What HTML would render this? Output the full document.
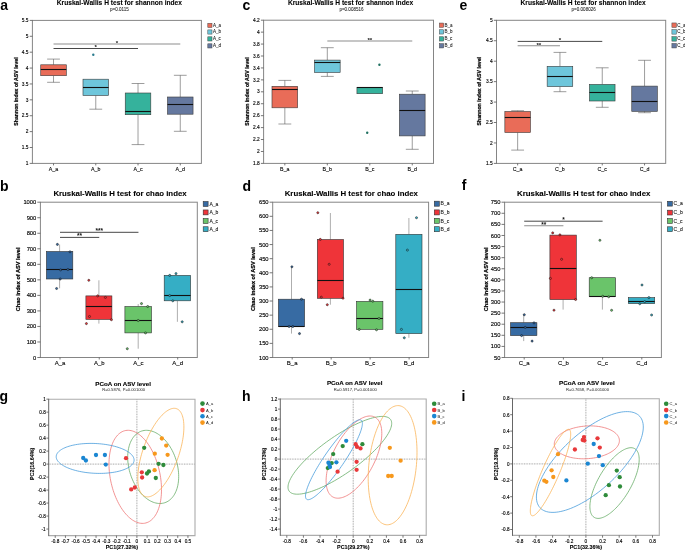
<!DOCTYPE html><html><head><meta charset="utf-8"><style>html,body{margin:0;padding:0;background:#fff;width:685px;height:550px;overflow:hidden}svg{display:block;will-change:transform}text{font-family:"Liberation Sans",sans-serif}</style></head><body>
<svg width="685" height="550" viewBox="0 0 685 550">
<rect width="685" height="550" fill="#fff"/>
<text x="0.30" y="10.00" font-size="14" font-weight="bold" text-anchor="start" fill="#000">a</text>
<text x="242.50" y="10.00" font-size="14" font-weight="bold" text-anchor="start" fill="#000">c</text>
<text x="459.50" y="10.20" font-size="14" font-weight="bold" text-anchor="start" fill="#000">e</text>
<text x="0.10" y="190.60" font-size="14" font-weight="bold" text-anchor="start" fill="#000">b</text>
<text x="242.50" y="190.70" font-size="14" font-weight="bold" text-anchor="start" fill="#000">d</text>
<text x="461.80" y="190.40" font-size="14" font-weight="bold" text-anchor="start" fill="#000">f</text>
<text x="-0.50" y="400.50" font-size="14" font-weight="bold" text-anchor="start" fill="#000">g</text>
<text x="241.90" y="401.00" font-size="14" font-weight="bold" text-anchor="start" fill="#000">h</text>
<text x="461.40" y="401.00" font-size="14" font-weight="bold" text-anchor="start" fill="#000">i</text>
<rect x="32.40" y="20.40" width="169.00" height="143.00" fill="none" stroke="#858585" stroke-width="1.0"/>
<line x1="29.70" y1="20.40" x2="32.40" y2="20.40" stroke="#555" stroke-width="0.8"/>
<text x="28.50" y="22.08" font-size="4.8" text-anchor="end" fill="#000" stroke="#000" stroke-width="0.13">5.5</text>
<line x1="29.70" y1="36.29" x2="32.40" y2="36.29" stroke="#555" stroke-width="0.8"/>
<text x="28.50" y="37.97" font-size="4.8" text-anchor="end" fill="#000" stroke="#000" stroke-width="0.13">5</text>
<line x1="29.70" y1="52.18" x2="32.40" y2="52.18" stroke="#555" stroke-width="0.8"/>
<text x="28.50" y="53.86" font-size="4.8" text-anchor="end" fill="#000" stroke="#000" stroke-width="0.13">4.5</text>
<line x1="29.70" y1="68.07" x2="32.40" y2="68.07" stroke="#555" stroke-width="0.8"/>
<text x="28.50" y="69.75" font-size="4.8" text-anchor="end" fill="#000" stroke="#000" stroke-width="0.13">4</text>
<line x1="29.70" y1="83.96" x2="32.40" y2="83.96" stroke="#555" stroke-width="0.8"/>
<text x="28.50" y="85.64" font-size="4.8" text-anchor="end" fill="#000" stroke="#000" stroke-width="0.13">3.5</text>
<line x1="29.70" y1="99.84" x2="32.40" y2="99.84" stroke="#555" stroke-width="0.8"/>
<text x="28.50" y="101.52" font-size="4.8" text-anchor="end" fill="#000" stroke="#000" stroke-width="0.13">3</text>
<line x1="29.70" y1="115.73" x2="32.40" y2="115.73" stroke="#555" stroke-width="0.8"/>
<text x="28.50" y="117.41" font-size="4.8" text-anchor="end" fill="#000" stroke="#000" stroke-width="0.13">2.5</text>
<line x1="29.70" y1="131.62" x2="32.40" y2="131.62" stroke="#555" stroke-width="0.8"/>
<text x="28.50" y="133.30" font-size="4.8" text-anchor="end" fill="#000" stroke="#000" stroke-width="0.13">2</text>
<line x1="29.70" y1="147.51" x2="32.40" y2="147.51" stroke="#555" stroke-width="0.8"/>
<text x="28.50" y="149.19" font-size="4.8" text-anchor="end" fill="#000" stroke="#000" stroke-width="0.13">1.5</text>
<line x1="29.70" y1="163.40" x2="32.40" y2="163.40" stroke="#555" stroke-width="0.8"/>
<text x="28.50" y="165.08" font-size="4.8" text-anchor="end" fill="#000" stroke="#000" stroke-width="0.13">1</text>
<line x1="53.52" y1="163.40" x2="53.52" y2="165.40" stroke="#555" stroke-width="0.8"/>
<text x="53.52" y="170.60" font-size="5.3" text-anchor="middle" fill="#000" stroke="#000" stroke-width="0.1">A_a</text>
<line x1="95.78" y1="163.40" x2="95.78" y2="165.40" stroke="#555" stroke-width="0.8"/>
<text x="95.78" y="170.60" font-size="5.3" text-anchor="middle" fill="#000" stroke="#000" stroke-width="0.1">A_b</text>
<line x1="138.03" y1="163.40" x2="138.03" y2="165.40" stroke="#555" stroke-width="0.8"/>
<text x="138.03" y="170.60" font-size="5.3" text-anchor="middle" fill="#000" stroke="#000" stroke-width="0.1">A_c</text>
<line x1="180.28" y1="163.40" x2="180.28" y2="165.40" stroke="#555" stroke-width="0.8"/>
<text x="180.28" y="170.60" font-size="5.3" text-anchor="middle" fill="#000" stroke="#000" stroke-width="0.1">A_d</text>
<line x1="53.52" y1="59.10" x2="53.52" y2="64.80" stroke="#5a5a5a" stroke-width="0.6"/>
<line x1="47.13" y1="59.10" x2="59.92" y2="59.10" stroke="#5a5a5a" stroke-width="0.6"/>
<line x1="53.52" y1="75.70" x2="53.52" y2="82.30" stroke="#5a5a5a" stroke-width="0.6"/>
<line x1="47.13" y1="82.30" x2="59.92" y2="82.30" stroke="#5a5a5a" stroke-width="0.6"/>
<rect x="40.74" y="64.80" width="25.56" height="10.90" fill="#E96C58" stroke="#3a3a3a" stroke-width="0.6"/>
<line x1="40.74" y1="69.50" x2="66.31" y2="69.50" stroke="#111" stroke-width="1.1"/>
<line x1="95.78" y1="95.50" x2="95.78" y2="109.20" stroke="#5a5a5a" stroke-width="0.6"/>
<line x1="89.38" y1="109.20" x2="102.17" y2="109.20" stroke="#5a5a5a" stroke-width="0.6"/>
<rect x="82.99" y="79.20" width="25.56" height="16.30" fill="#6EC6DB" stroke="#3a3a3a" stroke-width="0.6"/>
<line x1="82.99" y1="87.50" x2="108.56" y2="87.50" stroke="#111" stroke-width="1.1"/>
<line x1="138.03" y1="83.50" x2="138.03" y2="93.00" stroke="#5a5a5a" stroke-width="0.6"/>
<line x1="131.63" y1="83.50" x2="144.42" y2="83.50" stroke="#5a5a5a" stroke-width="0.6"/>
<line x1="138.03" y1="114.70" x2="138.03" y2="144.60" stroke="#5a5a5a" stroke-width="0.6"/>
<line x1="131.63" y1="144.60" x2="144.42" y2="144.60" stroke="#5a5a5a" stroke-width="0.6"/>
<rect x="125.24" y="93.00" width="25.56" height="21.70" fill="#35B29C" stroke="#3a3a3a" stroke-width="0.6"/>
<line x1="125.24" y1="111.50" x2="150.81" y2="111.50" stroke="#111" stroke-width="1.1"/>
<line x1="180.28" y1="75.30" x2="180.28" y2="97.00" stroke="#5a5a5a" stroke-width="0.6"/>
<line x1="173.88" y1="75.30" x2="186.67" y2="75.30" stroke="#5a5a5a" stroke-width="0.6"/>
<line x1="180.28" y1="114.20" x2="180.28" y2="131.30" stroke="#5a5a5a" stroke-width="0.6"/>
<line x1="173.88" y1="131.30" x2="186.67" y2="131.30" stroke="#5a5a5a" stroke-width="0.6"/>
<rect x="167.49" y="97.00" width="25.56" height="17.20" fill="#65789F" stroke="#3a3a3a" stroke-width="0.6"/>
<line x1="167.49" y1="104.50" x2="193.06" y2="104.50" stroke="#111" stroke-width="1.1"/>
<circle cx="93.30" cy="54.80" r="1.2" fill="#2a7b8e" stroke="none" stroke-width="0"/>
<line x1="53.52" y1="44.00" x2="180.28" y2="44.00" stroke="#8e8e8e" stroke-width="1.1"/>
<text x="116.90" y="44.60" font-size="6.2" font-weight="bold" text-anchor="middle" fill="#111">*</text>
<line x1="53.52" y1="48.50" x2="138.03" y2="48.50" stroke="#333" stroke-width="0.9"/>
<text x="95.78" y="49.10" font-size="6.2" font-weight="bold" text-anchor="middle" fill="#111">*</text>
<rect x="207.80" y="23.30" width="4.20" height="4.20" fill="#E96C58" stroke="#444" stroke-width="0.5"/>
<text x="212.90" y="26.85" font-size="4.5" text-anchor="start" fill="#111" stroke="#111" stroke-width="0.06">A_a</text>
<rect x="207.80" y="29.90" width="4.20" height="4.20" fill="#6EC6DB" stroke="#444" stroke-width="0.5"/>
<text x="212.90" y="33.45" font-size="4.5" text-anchor="start" fill="#111" stroke="#111" stroke-width="0.06">A_b</text>
<rect x="207.80" y="36.80" width="4.20" height="4.20" fill="#35B29C" stroke="#444" stroke-width="0.5"/>
<text x="212.90" y="40.35" font-size="4.5" text-anchor="start" fill="#111" stroke="#111" stroke-width="0.06">A_c</text>
<rect x="207.80" y="43.80" width="4.20" height="4.20" fill="#65789F" stroke="#444" stroke-width="0.5"/>
<text x="212.90" y="47.35" font-size="4.5" text-anchor="start" fill="#111" stroke="#111" stroke-width="0.06">A_d</text>
<text x="56.80" y="4.70" font-size="6.65" font-weight="bold" text-anchor="start" fill="#000" stroke="#000" stroke-width="0.08">Kruskal-Wallis H test for shannon index</text>
<text x="110.00" y="11.20" font-size="4.55" text-anchor="start" fill="#222" stroke="#222" stroke-width="0.05">p=0.0115</text>
<text x="17.60" y="91.50" font-size="5.2" font-weight="bold" text-anchor="middle" fill="#000" transform="rotate(-90 17.60 91.50)" stroke="#000" stroke-width="0.22">Shannon index of ASV level</text>
<rect x="263.60" y="20.20" width="169.90" height="143.20" fill="none" stroke="#858585" stroke-width="1.0"/>
<line x1="260.90" y1="20.20" x2="263.60" y2="20.20" stroke="#555" stroke-width="0.8"/>
<text x="259.70" y="21.88" font-size="4.8" text-anchor="end" fill="#000" stroke="#000" stroke-width="0.13">4.2</text>
<line x1="260.90" y1="32.13" x2="263.60" y2="32.13" stroke="#555" stroke-width="0.8"/>
<text x="259.70" y="33.81" font-size="4.8" text-anchor="end" fill="#000" stroke="#000" stroke-width="0.13">4</text>
<line x1="260.90" y1="44.07" x2="263.60" y2="44.07" stroke="#555" stroke-width="0.8"/>
<text x="259.70" y="45.75" font-size="4.8" text-anchor="end" fill="#000" stroke="#000" stroke-width="0.13">3.8</text>
<line x1="260.90" y1="56.00" x2="263.60" y2="56.00" stroke="#555" stroke-width="0.8"/>
<text x="259.70" y="57.68" font-size="4.8" text-anchor="end" fill="#000" stroke="#000" stroke-width="0.13">3.6</text>
<line x1="260.90" y1="67.93" x2="263.60" y2="67.93" stroke="#555" stroke-width="0.8"/>
<text x="259.70" y="69.61" font-size="4.8" text-anchor="end" fill="#000" stroke="#000" stroke-width="0.13">3.4</text>
<line x1="260.90" y1="79.87" x2="263.60" y2="79.87" stroke="#555" stroke-width="0.8"/>
<text x="259.70" y="81.55" font-size="4.8" text-anchor="end" fill="#000" stroke="#000" stroke-width="0.13">3.2</text>
<line x1="260.90" y1="91.80" x2="263.60" y2="91.80" stroke="#555" stroke-width="0.8"/>
<text x="259.70" y="93.48" font-size="4.8" text-anchor="end" fill="#000" stroke="#000" stroke-width="0.13">3</text>
<line x1="260.90" y1="103.73" x2="263.60" y2="103.73" stroke="#555" stroke-width="0.8"/>
<text x="259.70" y="105.41" font-size="4.8" text-anchor="end" fill="#000" stroke="#000" stroke-width="0.13">2.8</text>
<line x1="260.90" y1="115.67" x2="263.60" y2="115.67" stroke="#555" stroke-width="0.8"/>
<text x="259.70" y="117.35" font-size="4.8" text-anchor="end" fill="#000" stroke="#000" stroke-width="0.13">2.6</text>
<line x1="260.90" y1="127.60" x2="263.60" y2="127.60" stroke="#555" stroke-width="0.8"/>
<text x="259.70" y="129.28" font-size="4.8" text-anchor="end" fill="#000" stroke="#000" stroke-width="0.13">2.4</text>
<line x1="260.90" y1="139.53" x2="263.60" y2="139.53" stroke="#555" stroke-width="0.8"/>
<text x="259.70" y="141.21" font-size="4.8" text-anchor="end" fill="#000" stroke="#000" stroke-width="0.13">2.2</text>
<line x1="260.90" y1="151.47" x2="263.60" y2="151.47" stroke="#555" stroke-width="0.8"/>
<text x="259.70" y="153.15" font-size="4.8" text-anchor="end" fill="#000" stroke="#000" stroke-width="0.13">2</text>
<line x1="260.90" y1="163.40" x2="263.60" y2="163.40" stroke="#555" stroke-width="0.8"/>
<text x="259.70" y="165.08" font-size="4.8" text-anchor="end" fill="#000" stroke="#000" stroke-width="0.13">1.8</text>
<line x1="284.84" y1="163.40" x2="284.84" y2="165.40" stroke="#555" stroke-width="0.8"/>
<text x="284.84" y="170.60" font-size="5.3" text-anchor="middle" fill="#000" stroke="#000" stroke-width="0.1">B_a</text>
<line x1="327.31" y1="163.40" x2="327.31" y2="165.40" stroke="#555" stroke-width="0.8"/>
<text x="327.31" y="170.60" font-size="5.3" text-anchor="middle" fill="#000" stroke="#000" stroke-width="0.1">B_b</text>
<line x1="369.79" y1="163.40" x2="369.79" y2="165.40" stroke="#555" stroke-width="0.8"/>
<text x="369.79" y="170.60" font-size="5.3" text-anchor="middle" fill="#000" stroke="#000" stroke-width="0.1">B_c</text>
<line x1="412.26" y1="163.40" x2="412.26" y2="165.40" stroke="#555" stroke-width="0.8"/>
<text x="412.26" y="170.60" font-size="5.3" text-anchor="middle" fill="#000" stroke="#000" stroke-width="0.1">B_d</text>
<line x1="284.84" y1="80.40" x2="284.84" y2="86.30" stroke="#5a5a5a" stroke-width="0.6"/>
<line x1="278.41" y1="80.40" x2="291.26" y2="80.40" stroke="#5a5a5a" stroke-width="0.6"/>
<line x1="284.84" y1="107.80" x2="284.84" y2="124.00" stroke="#5a5a5a" stroke-width="0.6"/>
<line x1="278.41" y1="124.00" x2="291.26" y2="124.00" stroke="#5a5a5a" stroke-width="0.6"/>
<rect x="271.99" y="86.30" width="25.70" height="21.50" fill="#E96C58" stroke="#3a3a3a" stroke-width="0.6"/>
<line x1="271.99" y1="89.50" x2="297.69" y2="89.50" stroke="#111" stroke-width="1.1"/>
<line x1="327.31" y1="47.70" x2="327.31" y2="60.10" stroke="#5a5a5a" stroke-width="0.6"/>
<line x1="320.89" y1="47.70" x2="333.74" y2="47.70" stroke="#5a5a5a" stroke-width="0.6"/>
<line x1="327.31" y1="72.50" x2="327.31" y2="76.40" stroke="#5a5a5a" stroke-width="0.6"/>
<line x1="320.89" y1="76.40" x2="333.74" y2="76.40" stroke="#5a5a5a" stroke-width="0.6"/>
<rect x="314.46" y="60.10" width="25.70" height="12.40" fill="#6EC6DB" stroke="#3a3a3a" stroke-width="0.6"/>
<line x1="314.46" y1="62.50" x2="340.16" y2="62.50" stroke="#111" stroke-width="1.1"/>
<rect x="356.94" y="87.40" width="25.70" height="6.30" fill="#35B29C" stroke="#3a3a3a" stroke-width="0.6"/>
<line x1="356.94" y1="87.50" x2="382.64" y2="87.50" stroke="#111" stroke-width="1.1"/>
<line x1="412.26" y1="91.00" x2="412.26" y2="94.20" stroke="#5a5a5a" stroke-width="0.6"/>
<line x1="405.84" y1="91.00" x2="418.69" y2="91.00" stroke="#5a5a5a" stroke-width="0.6"/>
<line x1="412.26" y1="135.90" x2="412.26" y2="149.30" stroke="#5a5a5a" stroke-width="0.6"/>
<line x1="405.84" y1="149.30" x2="418.69" y2="149.30" stroke="#5a5a5a" stroke-width="0.6"/>
<rect x="399.41" y="94.20" width="25.70" height="41.70" fill="#65789F" stroke="#3a3a3a" stroke-width="0.6"/>
<line x1="399.41" y1="110.50" x2="425.11" y2="110.50" stroke="#111" stroke-width="1.1"/>
<circle cx="379.40" cy="64.80" r="1.2" fill="#1f7060" stroke="none" stroke-width="0"/>
<circle cx="367.20" cy="132.70" r="1.2" fill="#1f7060" stroke="none" stroke-width="0"/>
<line x1="327.31" y1="41.00" x2="412.26" y2="41.00" stroke="#8e8e8e" stroke-width="1.1"/>
<text x="369.79" y="42.40" font-size="6.2" font-weight="bold" text-anchor="middle" fill="#111">**</text>
<rect x="439.40" y="23.05" width="4.30" height="4.30" fill="#E96C58" stroke="#444" stroke-width="0.5"/>
<text x="444.60" y="26.65" font-size="4.5" text-anchor="start" fill="#111" stroke="#111" stroke-width="0.06">B_a</text>
<rect x="439.40" y="29.75" width="4.30" height="4.30" fill="#6EC6DB" stroke="#444" stroke-width="0.5"/>
<text x="444.60" y="33.35" font-size="4.5" text-anchor="start" fill="#111" stroke="#111" stroke-width="0.06">B_b</text>
<rect x="439.40" y="36.75" width="4.30" height="4.30" fill="#35B29C" stroke="#444" stroke-width="0.5"/>
<text x="444.60" y="40.35" font-size="4.5" text-anchor="start" fill="#111" stroke="#111" stroke-width="0.06">B_c</text>
<rect x="439.40" y="43.65" width="4.30" height="4.30" fill="#65789F" stroke="#444" stroke-width="0.5"/>
<text x="444.60" y="47.25" font-size="4.5" text-anchor="start" fill="#111" stroke="#111" stroke-width="0.06">B_d</text>
<text x="287.90" y="4.70" font-size="6.65" font-weight="bold" text-anchor="start" fill="#000" stroke="#000" stroke-width="0.08">Kruskal-Wallis H test for shannon index</text>
<text x="339.40" y="11.20" font-size="4.55" text-anchor="start" fill="#222" stroke="#222" stroke-width="0.05">p=0.008516</text>
<text x="248.80" y="91.50" font-size="5.2" font-weight="bold" text-anchor="middle" fill="#000" transform="rotate(-90 248.80 91.50)" stroke="#000" stroke-width="0.22">Shannon index of ASV level</text>
<rect x="496.50" y="20.30" width="169.20" height="143.10" fill="none" stroke="#858585" stroke-width="1.0"/>
<line x1="493.80" y1="20.30" x2="496.50" y2="20.30" stroke="#555" stroke-width="0.8"/>
<text x="492.60" y="21.98" font-size="4.8" text-anchor="end" fill="#000" stroke="#000" stroke-width="0.13">5</text>
<line x1="493.80" y1="40.74" x2="496.50" y2="40.74" stroke="#555" stroke-width="0.8"/>
<text x="492.60" y="42.42" font-size="4.8" text-anchor="end" fill="#000" stroke="#000" stroke-width="0.13">4.5</text>
<line x1="493.80" y1="61.19" x2="496.50" y2="61.19" stroke="#555" stroke-width="0.8"/>
<text x="492.60" y="62.87" font-size="4.8" text-anchor="end" fill="#000" stroke="#000" stroke-width="0.13">4</text>
<line x1="493.80" y1="81.63" x2="496.50" y2="81.63" stroke="#555" stroke-width="0.8"/>
<text x="492.60" y="83.31" font-size="4.8" text-anchor="end" fill="#000" stroke="#000" stroke-width="0.13">3.5</text>
<line x1="493.80" y1="102.07" x2="496.50" y2="102.07" stroke="#555" stroke-width="0.8"/>
<text x="492.60" y="103.75" font-size="4.8" text-anchor="end" fill="#000" stroke="#000" stroke-width="0.13">3</text>
<line x1="493.80" y1="122.51" x2="496.50" y2="122.51" stroke="#555" stroke-width="0.8"/>
<text x="492.60" y="124.19" font-size="4.8" text-anchor="end" fill="#000" stroke="#000" stroke-width="0.13">2.5</text>
<line x1="493.80" y1="142.96" x2="496.50" y2="142.96" stroke="#555" stroke-width="0.8"/>
<text x="492.60" y="144.64" font-size="4.8" text-anchor="end" fill="#000" stroke="#000" stroke-width="0.13">2</text>
<line x1="493.80" y1="163.40" x2="496.50" y2="163.40" stroke="#555" stroke-width="0.8"/>
<text x="492.60" y="165.08" font-size="4.8" text-anchor="end" fill="#000" stroke="#000" stroke-width="0.13">1.5</text>
<line x1="517.65" y1="163.40" x2="517.65" y2="165.40" stroke="#555" stroke-width="0.8"/>
<text x="517.65" y="170.60" font-size="5.3" text-anchor="middle" fill="#000" stroke="#000" stroke-width="0.1">C_a</text>
<line x1="559.95" y1="163.40" x2="559.95" y2="165.40" stroke="#555" stroke-width="0.8"/>
<text x="559.95" y="170.60" font-size="5.3" text-anchor="middle" fill="#000" stroke="#000" stroke-width="0.1">C_b</text>
<line x1="602.25" y1="163.40" x2="602.25" y2="165.40" stroke="#555" stroke-width="0.8"/>
<text x="602.25" y="170.60" font-size="5.3" text-anchor="middle" fill="#000" stroke="#000" stroke-width="0.1">C_c</text>
<line x1="644.55" y1="163.40" x2="644.55" y2="165.40" stroke="#555" stroke-width="0.8"/>
<text x="644.55" y="170.60" font-size="5.3" text-anchor="middle" fill="#000" stroke="#000" stroke-width="0.1">C_d</text>
<line x1="517.65" y1="110.70" x2="517.65" y2="111.50" stroke="#5a5a5a" stroke-width="0.6"/>
<line x1="511.25" y1="110.70" x2="524.05" y2="110.70" stroke="#5a5a5a" stroke-width="0.6"/>
<line x1="517.65" y1="132.50" x2="517.65" y2="150.10" stroke="#5a5a5a" stroke-width="0.6"/>
<line x1="511.25" y1="150.10" x2="524.05" y2="150.10" stroke="#5a5a5a" stroke-width="0.6"/>
<rect x="504.85" y="111.50" width="25.59" height="21.00" fill="#E96C58" stroke="#3a3a3a" stroke-width="0.6"/>
<line x1="504.85" y1="117.50" x2="530.45" y2="117.50" stroke="#111" stroke-width="1.1"/>
<line x1="559.95" y1="52.40" x2="559.95" y2="66.30" stroke="#5a5a5a" stroke-width="0.6"/>
<line x1="553.55" y1="52.40" x2="566.35" y2="52.40" stroke="#5a5a5a" stroke-width="0.6"/>
<line x1="559.95" y1="86.60" x2="559.95" y2="91.70" stroke="#5a5a5a" stroke-width="0.6"/>
<line x1="553.55" y1="91.70" x2="566.35" y2="91.70" stroke="#5a5a5a" stroke-width="0.6"/>
<rect x="547.15" y="66.30" width="25.59" height="20.30" fill="#6EC6DB" stroke="#3a3a3a" stroke-width="0.6"/>
<line x1="547.15" y1="76.50" x2="572.75" y2="76.50" stroke="#111" stroke-width="1.1"/>
<line x1="602.25" y1="67.80" x2="602.25" y2="84.40" stroke="#5a5a5a" stroke-width="0.6"/>
<line x1="595.85" y1="67.80" x2="608.65" y2="67.80" stroke="#5a5a5a" stroke-width="0.6"/>
<line x1="602.25" y1="101.00" x2="602.25" y2="107.30" stroke="#5a5a5a" stroke-width="0.6"/>
<line x1="595.85" y1="107.30" x2="608.65" y2="107.30" stroke="#5a5a5a" stroke-width="0.6"/>
<rect x="589.45" y="84.40" width="25.59" height="16.60" fill="#35B29C" stroke="#3a3a3a" stroke-width="0.6"/>
<line x1="589.45" y1="92.50" x2="615.05" y2="92.50" stroke="#111" stroke-width="1.1"/>
<line x1="644.55" y1="60.30" x2="644.55" y2="86.10" stroke="#5a5a5a" stroke-width="0.6"/>
<line x1="638.15" y1="60.30" x2="650.95" y2="60.30" stroke="#5a5a5a" stroke-width="0.6"/>
<line x1="644.55" y1="111.40" x2="644.55" y2="112.70" stroke="#5a5a5a" stroke-width="0.6"/>
<line x1="638.15" y1="112.70" x2="650.95" y2="112.70" stroke="#5a5a5a" stroke-width="0.6"/>
<rect x="631.75" y="86.10" width="25.59" height="25.30" fill="#65789F" stroke="#3a3a3a" stroke-width="0.6"/>
<line x1="631.75" y1="101.50" x2="657.35" y2="101.50" stroke="#111" stroke-width="1.1"/>
<line x1="517.65" y1="41.40" x2="602.25" y2="41.40" stroke="#333" stroke-width="0.9"/>
<text x="559.95" y="42.00" font-size="6.2" font-weight="bold" text-anchor="middle" fill="#111">*</text>
<line x1="517.65" y1="45.80" x2="559.95" y2="45.80" stroke="#8e8e8e" stroke-width="1.1"/>
<text x="538.80" y="47.20" font-size="6.2" font-weight="bold" text-anchor="middle" fill="#111">**</text>
<rect x="671.90" y="22.95" width="4.50" height="4.50" fill="#E96C58" stroke="#444" stroke-width="0.5"/>
<text x="677.30" y="26.65" font-size="4.5" text-anchor="start" fill="#111" stroke="#111" stroke-width="0.06">C_a</text>
<rect x="671.90" y="29.65" width="4.50" height="4.50" fill="#6EC6DB" stroke="#444" stroke-width="0.5"/>
<text x="677.30" y="33.35" font-size="4.5" text-anchor="start" fill="#111" stroke="#111" stroke-width="0.06">C_b</text>
<rect x="671.90" y="36.65" width="4.50" height="4.50" fill="#35B29C" stroke="#444" stroke-width="0.5"/>
<text x="677.30" y="40.35" font-size="4.5" text-anchor="start" fill="#111" stroke="#111" stroke-width="0.06">C_c</text>
<rect x="671.90" y="43.45" width="4.50" height="4.50" fill="#65789F" stroke="#444" stroke-width="0.5"/>
<text x="677.30" y="47.15" font-size="4.5" text-anchor="start" fill="#111" stroke="#111" stroke-width="0.06">C_d</text>
<text x="520.50" y="4.70" font-size="6.65" font-weight="bold" text-anchor="start" fill="#000" stroke="#000" stroke-width="0.08">Kruskal-Wallis H test for shannon index</text>
<text x="571.60" y="11.20" font-size="4.55" text-anchor="start" fill="#222" stroke="#222" stroke-width="0.05">p=0.008026</text>
<text x="481.50" y="91.20" font-size="5.2" font-weight="bold" text-anchor="middle" fill="#000" transform="rotate(-90 481.50 91.20)" stroke="#000" stroke-width="0.22">Shannon index of ASV level</text>
<rect x="40.40" y="202.20" width="156.90" height="155.30" fill="none" stroke="#858585" stroke-width="1.0"/>
<line x1="37.30" y1="202.20" x2="40.40" y2="202.20" stroke="#555" stroke-width="0.8"/>
<text x="36.30" y="204.23" font-size="5.8" text-anchor="end" fill="#000" stroke="#000" stroke-width="0.13">1000</text>
<line x1="37.30" y1="217.73" x2="40.40" y2="217.73" stroke="#555" stroke-width="0.8"/>
<text x="36.30" y="219.76" font-size="5.8" text-anchor="end" fill="#000" stroke="#000" stroke-width="0.13">900</text>
<line x1="37.30" y1="233.26" x2="40.40" y2="233.26" stroke="#555" stroke-width="0.8"/>
<text x="36.30" y="235.29" font-size="5.8" text-anchor="end" fill="#000" stroke="#000" stroke-width="0.13">800</text>
<line x1="37.30" y1="248.79" x2="40.40" y2="248.79" stroke="#555" stroke-width="0.8"/>
<text x="36.30" y="250.82" font-size="5.8" text-anchor="end" fill="#000" stroke="#000" stroke-width="0.13">700</text>
<line x1="37.30" y1="264.32" x2="40.40" y2="264.32" stroke="#555" stroke-width="0.8"/>
<text x="36.30" y="266.35" font-size="5.8" text-anchor="end" fill="#000" stroke="#000" stroke-width="0.13">600</text>
<line x1="37.30" y1="279.85" x2="40.40" y2="279.85" stroke="#555" stroke-width="0.8"/>
<text x="36.30" y="281.88" font-size="5.8" text-anchor="end" fill="#000" stroke="#000" stroke-width="0.13">500</text>
<line x1="37.30" y1="295.38" x2="40.40" y2="295.38" stroke="#555" stroke-width="0.8"/>
<text x="36.30" y="297.41" font-size="5.8" text-anchor="end" fill="#000" stroke="#000" stroke-width="0.13">400</text>
<line x1="37.30" y1="310.91" x2="40.40" y2="310.91" stroke="#555" stroke-width="0.8"/>
<text x="36.30" y="312.94" font-size="5.8" text-anchor="end" fill="#000" stroke="#000" stroke-width="0.13">300</text>
<line x1="37.30" y1="326.44" x2="40.40" y2="326.44" stroke="#555" stroke-width="0.8"/>
<text x="36.30" y="328.47" font-size="5.8" text-anchor="end" fill="#000" stroke="#000" stroke-width="0.13">200</text>
<line x1="37.30" y1="341.97" x2="40.40" y2="341.97" stroke="#555" stroke-width="0.8"/>
<text x="36.30" y="344.00" font-size="5.8" text-anchor="end" fill="#000" stroke="#000" stroke-width="0.13">100</text>
<line x1="37.30" y1="357.50" x2="40.40" y2="357.50" stroke="#555" stroke-width="0.8"/>
<text x="36.30" y="359.53" font-size="5.8" text-anchor="end" fill="#000" stroke="#000" stroke-width="0.13">0</text>
<line x1="60.01" y1="357.50" x2="60.01" y2="359.50" stroke="#555" stroke-width="0.8"/>
<text x="60.01" y="365.30" font-size="6.0" text-anchor="middle" fill="#000" stroke="#000" stroke-width="0.1">A_a</text>
<line x1="99.24" y1="357.50" x2="99.24" y2="359.50" stroke="#555" stroke-width="0.8"/>
<text x="99.24" y="365.30" font-size="6.0" text-anchor="middle" fill="#000" stroke="#000" stroke-width="0.1">A_b</text>
<line x1="138.46" y1="357.50" x2="138.46" y2="359.50" stroke="#555" stroke-width="0.8"/>
<text x="138.46" y="365.30" font-size="6.0" text-anchor="middle" fill="#000" stroke="#000" stroke-width="0.1">A_c</text>
<line x1="177.69" y1="357.50" x2="177.69" y2="359.50" stroke="#555" stroke-width="0.8"/>
<text x="177.69" y="365.30" font-size="6.0" text-anchor="middle" fill="#000" stroke="#000" stroke-width="0.1">A_d</text>
<line x1="59.60" y1="244.50" x2="59.60" y2="251.50" stroke="#777" stroke-width="0.6"/>
<line x1="59.60" y1="279.00" x2="59.60" y2="288.30" stroke="#777" stroke-width="0.6"/>
<rect x="46.40" y="251.50" width="26.40" height="27.50" fill="#376BA3" stroke="#333" stroke-width="0.6"/>
<line x1="46.40" y1="269.50" x2="72.80" y2="269.50" stroke="#111" stroke-width="1.1"/>
<line x1="98.90" y1="280.30" x2="98.90" y2="295.90" stroke="#777" stroke-width="0.6"/>
<line x1="98.90" y1="319.40" x2="98.90" y2="323.60" stroke="#777" stroke-width="0.6"/>
<rect x="85.90" y="295.90" width="26.00" height="23.50" fill="#EF3439" stroke="#333" stroke-width="0.6"/>
<line x1="85.90" y1="306.50" x2="111.90" y2="306.50" stroke="#111" stroke-width="1.1"/>
<line x1="138.20" y1="304.10" x2="138.20" y2="306.50" stroke="#777" stroke-width="0.6"/>
<line x1="138.20" y1="332.90" x2="138.20" y2="348.70" stroke="#777" stroke-width="0.6"/>
<rect x="124.90" y="306.50" width="26.60" height="26.40" fill="#6AC46A" stroke="#333" stroke-width="0.6"/>
<line x1="124.90" y1="320.50" x2="151.50" y2="320.50" stroke="#111" stroke-width="1.1"/>
<line x1="177.40" y1="300.80" x2="177.40" y2="321.80" stroke="#777" stroke-width="0.6"/>
<rect x="164.20" y="275.40" width="26.40" height="25.40" fill="#35AEC5" stroke="#333" stroke-width="0.6"/>
<line x1="164.20" y1="295.50" x2="190.60" y2="295.50" stroke="#111" stroke-width="1.1"/>
<circle cx="57.40" cy="244.40" r="1.05" fill="#376BA3" stroke="#111" stroke-width="0.5"/>
<circle cx="70.00" cy="251.80" r="1.05" fill="#376BA3" stroke="#111" stroke-width="0.5"/>
<circle cx="60.60" cy="269.90" r="1.05" fill="#376BA3" stroke="#111" stroke-width="0.5"/>
<circle cx="67.90" cy="269.50" r="1.05" fill="#376BA3" stroke="#111" stroke-width="0.5"/>
<circle cx="60.20" cy="279.00" r="1.05" fill="#376BA3" stroke="#111" stroke-width="0.5"/>
<circle cx="56.60" cy="288.50" r="1.05" fill="#376BA3" stroke="#111" stroke-width="0.5"/>
<circle cx="88.80" cy="280.30" r="1.05" fill="#EF3439" stroke="#111" stroke-width="0.5"/>
<circle cx="97.70" cy="295.90" r="1.05" fill="#EF3439" stroke="#111" stroke-width="0.5"/>
<circle cx="105.40" cy="297.40" r="1.05" fill="#EF3439" stroke="#111" stroke-width="0.5"/>
<circle cx="89.50" cy="316.50" r="1.05" fill="#EF3439" stroke="#111" stroke-width="0.5"/>
<circle cx="111.40" cy="319.70" r="1.05" fill="#EF3439" stroke="#111" stroke-width="0.5"/>
<circle cx="86.40" cy="323.60" r="1.05" fill="#EF3439" stroke="#111" stroke-width="0.5"/>
<circle cx="141.50" cy="303.60" r="1.05" fill="#6AC46A" stroke="#111" stroke-width="0.5"/>
<circle cx="147.70" cy="306.50" r="1.05" fill="#6AC46A" stroke="#111" stroke-width="0.5"/>
<circle cx="138.20" cy="320.50" r="1.05" fill="#6AC46A" stroke="#111" stroke-width="0.5"/>
<circle cx="145.50" cy="332.90" r="1.05" fill="#6AC46A" stroke="#111" stroke-width="0.5"/>
<circle cx="127.30" cy="348.70" r="1.05" fill="#6AC46A" stroke="#111" stroke-width="0.5"/>
<circle cx="169.70" cy="275.40" r="1.05" fill="#35AEC5" stroke="#111" stroke-width="0.5"/>
<circle cx="176.00" cy="273.60" r="1.05" fill="#35AEC5" stroke="#111" stroke-width="0.5"/>
<circle cx="169.70" cy="295.60" r="1.05" fill="#35AEC5" stroke="#111" stroke-width="0.5"/>
<circle cx="172.80" cy="300.80" r="1.05" fill="#35AEC5" stroke="#111" stroke-width="0.5"/>
<circle cx="182.20" cy="321.80" r="1.05" fill="#35AEC5" stroke="#111" stroke-width="0.5"/>
<line x1="60.01" y1="232.30" x2="138.46" y2="232.30" stroke="#333" stroke-width="0.9"/>
<text x="99.24" y="233.15" font-size="6.5" font-weight="bold" text-anchor="middle" fill="#111">***</text>
<line x1="60.01" y1="237.40" x2="99.24" y2="237.40" stroke="#333" stroke-width="0.9"/>
<text x="79.62" y="238.25" font-size="6.5" font-weight="bold" text-anchor="middle" fill="#111">**</text>
<rect x="203.20" y="201.55" width="4.90" height="4.90" fill="#376BA3" stroke="#333" stroke-width="0.6"/>
<text x="209.40" y="205.70" font-size="5.0" text-anchor="start" fill="#111" stroke="#111" stroke-width="0.08">A_a</text>
<rect x="203.20" y="209.95" width="4.90" height="4.90" fill="#EF3439" stroke="#333" stroke-width="0.6"/>
<text x="209.40" y="214.10" font-size="5.0" text-anchor="start" fill="#111" stroke="#111" stroke-width="0.08">A_b</text>
<rect x="203.20" y="218.55" width="4.90" height="4.90" fill="#6AC46A" stroke="#333" stroke-width="0.6"/>
<text x="209.40" y="222.70" font-size="5.0" text-anchor="start" fill="#111" stroke="#111" stroke-width="0.08">A_c</text>
<rect x="203.20" y="226.75" width="4.90" height="4.90" fill="#35AEC5" stroke="#333" stroke-width="0.6"/>
<text x="209.40" y="230.90" font-size="5.0" text-anchor="start" fill="#111" stroke="#111" stroke-width="0.08">A_d</text>
<text x="53.40" y="196.20" font-size="7.84" font-weight="bold" text-anchor="start" fill="#000" stroke="#000" stroke-width="0.1">Kruskal-Wallis H test for chao index</text>
<text x="20.00" y="279.40" font-size="5.6" font-weight="bold" text-anchor="middle" fill="#000" transform="rotate(-90 20.00 279.40)" stroke="#000" stroke-width="0.22">Chao index of ASV level</text>
<rect x="272.70" y="202.20" width="155.90" height="155.30" fill="none" stroke="#858585" stroke-width="1.0"/>
<line x1="269.60" y1="202.20" x2="272.70" y2="202.20" stroke="#555" stroke-width="0.8"/>
<text x="268.60" y="204.23" font-size="5.8" text-anchor="end" fill="#000" stroke="#000" stroke-width="0.13">650</text>
<line x1="269.60" y1="216.32" x2="272.70" y2="216.32" stroke="#555" stroke-width="0.8"/>
<text x="268.60" y="218.35" font-size="5.8" text-anchor="end" fill="#000" stroke="#000" stroke-width="0.13">600</text>
<line x1="269.60" y1="230.44" x2="272.70" y2="230.44" stroke="#555" stroke-width="0.8"/>
<text x="268.60" y="232.47" font-size="5.8" text-anchor="end" fill="#000" stroke="#000" stroke-width="0.13">550</text>
<line x1="269.60" y1="244.55" x2="272.70" y2="244.55" stroke="#555" stroke-width="0.8"/>
<text x="268.60" y="246.58" font-size="5.8" text-anchor="end" fill="#000" stroke="#000" stroke-width="0.13">500</text>
<line x1="269.60" y1="258.67" x2="272.70" y2="258.67" stroke="#555" stroke-width="0.8"/>
<text x="268.60" y="260.70" font-size="5.8" text-anchor="end" fill="#000" stroke="#000" stroke-width="0.13">450</text>
<line x1="269.60" y1="272.79" x2="272.70" y2="272.79" stroke="#555" stroke-width="0.8"/>
<text x="268.60" y="274.82" font-size="5.8" text-anchor="end" fill="#000" stroke="#000" stroke-width="0.13">400</text>
<line x1="269.60" y1="286.91" x2="272.70" y2="286.91" stroke="#555" stroke-width="0.8"/>
<text x="268.60" y="288.94" font-size="5.8" text-anchor="end" fill="#000" stroke="#000" stroke-width="0.13">350</text>
<line x1="269.60" y1="301.03" x2="272.70" y2="301.03" stroke="#555" stroke-width="0.8"/>
<text x="268.60" y="303.06" font-size="5.8" text-anchor="end" fill="#000" stroke="#000" stroke-width="0.13">300</text>
<line x1="269.60" y1="315.15" x2="272.70" y2="315.15" stroke="#555" stroke-width="0.8"/>
<text x="268.60" y="317.18" font-size="5.8" text-anchor="end" fill="#000" stroke="#000" stroke-width="0.13">250</text>
<line x1="269.60" y1="329.26" x2="272.70" y2="329.26" stroke="#555" stroke-width="0.8"/>
<text x="268.60" y="331.29" font-size="5.8" text-anchor="end" fill="#000" stroke="#000" stroke-width="0.13">200</text>
<line x1="269.60" y1="343.38" x2="272.70" y2="343.38" stroke="#555" stroke-width="0.8"/>
<text x="268.60" y="345.41" font-size="5.8" text-anchor="end" fill="#000" stroke="#000" stroke-width="0.13">150</text>
<line x1="269.60" y1="357.50" x2="272.70" y2="357.50" stroke="#555" stroke-width="0.8"/>
<text x="268.60" y="359.53" font-size="5.8" text-anchor="end" fill="#000" stroke="#000" stroke-width="0.13">100</text>
<line x1="292.19" y1="357.50" x2="292.19" y2="359.50" stroke="#555" stroke-width="0.8"/>
<text x="292.19" y="365.30" font-size="6.0" text-anchor="middle" fill="#000" stroke="#000" stroke-width="0.1">B_a</text>
<line x1="331.16" y1="357.50" x2="331.16" y2="359.50" stroke="#555" stroke-width="0.8"/>
<text x="331.16" y="365.30" font-size="6.0" text-anchor="middle" fill="#000" stroke="#000" stroke-width="0.1">B_b</text>
<line x1="370.14" y1="357.50" x2="370.14" y2="359.50" stroke="#555" stroke-width="0.8"/>
<text x="370.14" y="365.30" font-size="6.0" text-anchor="middle" fill="#000" stroke="#000" stroke-width="0.1">B_c</text>
<line x1="409.11" y1="357.50" x2="409.11" y2="359.50" stroke="#555" stroke-width="0.8"/>
<text x="409.11" y="365.30" font-size="6.0" text-anchor="middle" fill="#000" stroke="#000" stroke-width="0.1">B_d</text>
<line x1="291.50" y1="266.80" x2="291.50" y2="299.20" stroke="#777" stroke-width="0.6"/>
<line x1="291.50" y1="326.50" x2="291.50" y2="333.60" stroke="#777" stroke-width="0.6"/>
<rect x="278.40" y="299.20" width="26.20" height="27.30" fill="#376BA3" stroke="#333" stroke-width="0.6"/>
<line x1="278.40" y1="326.50" x2="304.60" y2="326.50" stroke="#111" stroke-width="1.1"/>
<line x1="330.40" y1="213.00" x2="330.40" y2="239.50" stroke="#777" stroke-width="0.6"/>
<line x1="330.40" y1="298.30" x2="330.40" y2="304.70" stroke="#777" stroke-width="0.6"/>
<rect x="317.30" y="239.50" width="26.20" height="58.80" fill="#EF3439" stroke="#333" stroke-width="0.6"/>
<line x1="317.30" y1="280.50" x2="343.50" y2="280.50" stroke="#111" stroke-width="1.1"/>
<rect x="356.50" y="301.40" width="26.40" height="28.00" fill="#6AC46A" stroke="#333" stroke-width="0.6"/>
<line x1="356.50" y1="318.50" x2="382.90" y2="318.50" stroke="#111" stroke-width="1.1"/>
<line x1="408.90" y1="218.00" x2="408.90" y2="234.30" stroke="#777" stroke-width="0.6"/>
<line x1="408.90" y1="333.60" x2="408.90" y2="337.80" stroke="#777" stroke-width="0.6"/>
<rect x="395.80" y="234.30" width="26.20" height="99.30" fill="#35AEC5" stroke="#333" stroke-width="0.6"/>
<line x1="395.80" y1="289.50" x2="422.00" y2="289.50" stroke="#111" stroke-width="1.1"/>
<circle cx="291.90" cy="266.80" r="1.05" fill="#376BA3" stroke="#111" stroke-width="0.5"/>
<circle cx="301.50" cy="299.20" r="1.05" fill="#376BA3" stroke="#111" stroke-width="0.5"/>
<circle cx="289.10" cy="326.50" r="1.05" fill="#376BA3" stroke="#111" stroke-width="0.5"/>
<circle cx="292.80" cy="326.50" r="1.05" fill="#376BA3" stroke="#111" stroke-width="0.5"/>
<circle cx="299.50" cy="333.60" r="1.05" fill="#376BA3" stroke="#111" stroke-width="0.5"/>
<circle cx="317.80" cy="212.70" r="1.05" fill="#EF3439" stroke="#111" stroke-width="0.5"/>
<circle cx="320.30" cy="239.40" r="1.05" fill="#EF3439" stroke="#111" stroke-width="0.5"/>
<circle cx="329.20" cy="264.30" r="1.05" fill="#EF3439" stroke="#111" stroke-width="0.5"/>
<circle cx="321.30" cy="297.20" r="1.05" fill="#EF3439" stroke="#111" stroke-width="0.5"/>
<circle cx="327.30" cy="304.70" r="1.05" fill="#EF3439" stroke="#111" stroke-width="0.5"/>
<circle cx="343.00" cy="298.20" r="1.05" fill="#EF3439" stroke="#111" stroke-width="0.5"/>
<circle cx="370.10" cy="300.10" r="1.05" fill="#6AC46A" stroke="#111" stroke-width="0.5"/>
<circle cx="372.80" cy="301.20" r="1.05" fill="#6AC46A" stroke="#111" stroke-width="0.5"/>
<circle cx="379.00" cy="318.50" r="1.05" fill="#6AC46A" stroke="#111" stroke-width="0.5"/>
<circle cx="359.20" cy="329.40" r="1.05" fill="#6AC46A" stroke="#111" stroke-width="0.5"/>
<circle cx="376.50" cy="329.80" r="1.05" fill="#6AC46A" stroke="#111" stroke-width="0.5"/>
<circle cx="416.50" cy="217.70" r="1.05" fill="#35AEC5" stroke="#111" stroke-width="0.5"/>
<circle cx="407.40" cy="250.10" r="1.05" fill="#35AEC5" stroke="#111" stroke-width="0.5"/>
<circle cx="401.40" cy="329.40" r="1.05" fill="#35AEC5" stroke="#111" stroke-width="0.5"/>
<circle cx="404.30" cy="337.80" r="1.05" fill="#35AEC5" stroke="#111" stroke-width="0.5"/>
<rect x="434.30" y="201.20" width="5.00" height="5.00" fill="#376BA3" stroke="#333" stroke-width="0.6"/>
<text x="440.60" y="205.40" font-size="5.0" text-anchor="start" fill="#111" stroke="#111" stroke-width="0.08">B_a</text>
<rect x="434.30" y="209.90" width="5.00" height="5.00" fill="#EF3439" stroke="#333" stroke-width="0.6"/>
<text x="440.60" y="214.10" font-size="5.0" text-anchor="start" fill="#111" stroke="#111" stroke-width="0.08">B_b</text>
<rect x="434.30" y="218.30" width="5.00" height="5.00" fill="#6AC46A" stroke="#333" stroke-width="0.6"/>
<text x="440.60" y="222.50" font-size="5.0" text-anchor="start" fill="#111" stroke="#111" stroke-width="0.08">B_c</text>
<rect x="434.30" y="226.70" width="5.00" height="5.00" fill="#35AEC5" stroke="#333" stroke-width="0.6"/>
<text x="440.60" y="230.90" font-size="5.0" text-anchor="start" fill="#111" stroke="#111" stroke-width="0.08">B_d</text>
<text x="284.70" y="196.20" font-size="7.84" font-weight="bold" text-anchor="start" fill="#000" stroke="#000" stroke-width="0.1">Kruskal-Wallis H test for chao index</text>
<text x="255.00" y="279.20" font-size="5.6" font-weight="bold" text-anchor="middle" fill="#000" transform="rotate(-90 255.00 279.20)" stroke="#000" stroke-width="0.22">Chao index of ASV level</text>
<rect x="504.60" y="202.20" width="156.80" height="155.30" fill="none" stroke="#858585" stroke-width="1.0"/>
<line x1="501.50" y1="202.20" x2="504.60" y2="202.20" stroke="#555" stroke-width="0.8"/>
<text x="500.50" y="204.23" font-size="5.8" text-anchor="end" fill="#000" stroke="#000" stroke-width="0.13">750</text>
<line x1="501.50" y1="213.29" x2="504.60" y2="213.29" stroke="#555" stroke-width="0.8"/>
<text x="500.50" y="215.32" font-size="5.8" text-anchor="end" fill="#000" stroke="#000" stroke-width="0.13">700</text>
<line x1="501.50" y1="224.39" x2="504.60" y2="224.39" stroke="#555" stroke-width="0.8"/>
<text x="500.50" y="226.42" font-size="5.8" text-anchor="end" fill="#000" stroke="#000" stroke-width="0.13">650</text>
<line x1="501.50" y1="235.48" x2="504.60" y2="235.48" stroke="#555" stroke-width="0.8"/>
<text x="500.50" y="237.51" font-size="5.8" text-anchor="end" fill="#000" stroke="#000" stroke-width="0.13">600</text>
<line x1="501.50" y1="246.57" x2="504.60" y2="246.57" stroke="#555" stroke-width="0.8"/>
<text x="500.50" y="248.60" font-size="5.8" text-anchor="end" fill="#000" stroke="#000" stroke-width="0.13">550</text>
<line x1="501.50" y1="257.66" x2="504.60" y2="257.66" stroke="#555" stroke-width="0.8"/>
<text x="500.50" y="259.69" font-size="5.8" text-anchor="end" fill="#000" stroke="#000" stroke-width="0.13">500</text>
<line x1="501.50" y1="268.76" x2="504.60" y2="268.76" stroke="#555" stroke-width="0.8"/>
<text x="500.50" y="270.79" font-size="5.8" text-anchor="end" fill="#000" stroke="#000" stroke-width="0.13">450</text>
<line x1="501.50" y1="279.85" x2="504.60" y2="279.85" stroke="#555" stroke-width="0.8"/>
<text x="500.50" y="281.88" font-size="5.8" text-anchor="end" fill="#000" stroke="#000" stroke-width="0.13">400</text>
<line x1="501.50" y1="290.94" x2="504.60" y2="290.94" stroke="#555" stroke-width="0.8"/>
<text x="500.50" y="292.97" font-size="5.8" text-anchor="end" fill="#000" stroke="#000" stroke-width="0.13">350</text>
<line x1="501.50" y1="302.04" x2="504.60" y2="302.04" stroke="#555" stroke-width="0.8"/>
<text x="500.50" y="304.07" font-size="5.8" text-anchor="end" fill="#000" stroke="#000" stroke-width="0.13">300</text>
<line x1="501.50" y1="313.13" x2="504.60" y2="313.13" stroke="#555" stroke-width="0.8"/>
<text x="500.50" y="315.16" font-size="5.8" text-anchor="end" fill="#000" stroke="#000" stroke-width="0.13">250</text>
<line x1="501.50" y1="324.22" x2="504.60" y2="324.22" stroke="#555" stroke-width="0.8"/>
<text x="500.50" y="326.25" font-size="5.8" text-anchor="end" fill="#000" stroke="#000" stroke-width="0.13">200</text>
<line x1="501.50" y1="335.31" x2="504.60" y2="335.31" stroke="#555" stroke-width="0.8"/>
<text x="500.50" y="337.34" font-size="5.8" text-anchor="end" fill="#000" stroke="#000" stroke-width="0.13">150</text>
<line x1="501.50" y1="346.41" x2="504.60" y2="346.41" stroke="#555" stroke-width="0.8"/>
<text x="500.50" y="348.44" font-size="5.8" text-anchor="end" fill="#000" stroke="#000" stroke-width="0.13">100</text>
<line x1="501.50" y1="357.50" x2="504.60" y2="357.50" stroke="#555" stroke-width="0.8"/>
<text x="500.50" y="359.53" font-size="5.8" text-anchor="end" fill="#000" stroke="#000" stroke-width="0.13">50</text>
<line x1="524.20" y1="357.50" x2="524.20" y2="359.50" stroke="#555" stroke-width="0.8"/>
<text x="524.20" y="365.30" font-size="6.0" text-anchor="middle" fill="#000" stroke="#000" stroke-width="0.1">C_a</text>
<line x1="563.40" y1="357.50" x2="563.40" y2="359.50" stroke="#555" stroke-width="0.8"/>
<text x="563.40" y="365.30" font-size="6.0" text-anchor="middle" fill="#000" stroke="#000" stroke-width="0.1">C_b</text>
<line x1="602.60" y1="357.50" x2="602.60" y2="359.50" stroke="#555" stroke-width="0.8"/>
<text x="602.60" y="365.30" font-size="6.0" text-anchor="middle" fill="#000" stroke="#000" stroke-width="0.1">C_c</text>
<line x1="641.80" y1="357.50" x2="641.80" y2="359.50" stroke="#555" stroke-width="0.8"/>
<text x="641.80" y="365.30" font-size="6.0" text-anchor="middle" fill="#000" stroke="#000" stroke-width="0.1">C_d</text>
<line x1="523.70" y1="314.10" x2="523.70" y2="322.70" stroke="#777" stroke-width="0.6"/>
<line x1="523.70" y1="335.60" x2="523.70" y2="341.10" stroke="#777" stroke-width="0.6"/>
<rect x="510.50" y="322.70" width="26.40" height="12.90" fill="#376BA3" stroke="#333" stroke-width="0.6"/>
<line x1="510.50" y1="327.50" x2="536.90" y2="327.50" stroke="#111" stroke-width="1.1"/>
<line x1="563.10" y1="299.60" x2="563.10" y2="309.60" stroke="#777" stroke-width="0.6"/>
<rect x="549.90" y="235.10" width="26.40" height="64.50" fill="#EF3439" stroke="#333" stroke-width="0.6"/>
<line x1="549.90" y1="268.50" x2="576.30" y2="268.50" stroke="#111" stroke-width="1.1"/>
<line x1="602.40" y1="296.50" x2="602.40" y2="309.60" stroke="#777" stroke-width="0.6"/>
<rect x="589.20" y="277.70" width="26.40" height="18.80" fill="#6AC46A" stroke="#333" stroke-width="0.6"/>
<line x1="589.20" y1="296.50" x2="615.60" y2="296.50" stroke="#111" stroke-width="1.1"/>
<rect x="628.30" y="297.60" width="26.40" height="6.00" fill="#35AEC5" stroke="#333" stroke-width="0.6"/>
<line x1="628.30" y1="301.50" x2="654.70" y2="301.50" stroke="#111" stroke-width="1.1"/>
<circle cx="524.30" cy="314.70" r="1.05" fill="#376BA3" stroke="#111" stroke-width="0.5"/>
<circle cx="534.00" cy="322.90" r="1.05" fill="#376BA3" stroke="#111" stroke-width="0.5"/>
<circle cx="525.20" cy="327.40" r="1.05" fill="#376BA3" stroke="#111" stroke-width="0.5"/>
<circle cx="521.60" cy="335.60" r="1.05" fill="#376BA3" stroke="#111" stroke-width="0.5"/>
<circle cx="532.10" cy="341.10" r="1.05" fill="#376BA3" stroke="#111" stroke-width="0.5"/>
<circle cx="552.70" cy="232.90" r="1.05" fill="#EF3439" stroke="#111" stroke-width="0.5"/>
<circle cx="559.90" cy="234.90" r="1.05" fill="#EF3439" stroke="#111" stroke-width="0.5"/>
<circle cx="561.60" cy="259.30" r="1.05" fill="#EF3439" stroke="#111" stroke-width="0.5"/>
<circle cx="550.40" cy="278.40" r="1.05" fill="#EF3439" stroke="#111" stroke-width="0.5"/>
<circle cx="554.00" cy="310.20" r="1.05" fill="#EF3439" stroke="#111" stroke-width="0.5"/>
<circle cx="575.60" cy="299.50" r="1.05" fill="#EF3439" stroke="#111" stroke-width="0.5"/>
<circle cx="599.90" cy="240.30" r="1.05" fill="#6AC46A" stroke="#111" stroke-width="0.5"/>
<circle cx="591.70" cy="277.70" r="1.05" fill="#6AC46A" stroke="#111" stroke-width="0.5"/>
<circle cx="602.70" cy="296.30" r="1.05" fill="#6AC46A" stroke="#111" stroke-width="0.5"/>
<circle cx="608.70" cy="296.80" r="1.05" fill="#6AC46A" stroke="#111" stroke-width="0.5"/>
<circle cx="611.60" cy="310.30" r="1.05" fill="#6AC46A" stroke="#111" stroke-width="0.5"/>
<circle cx="642.00" cy="285.00" r="1.05" fill="#35AEC5" stroke="#111" stroke-width="0.5"/>
<circle cx="648.90" cy="297.60" r="1.05" fill="#35AEC5" stroke="#111" stroke-width="0.5"/>
<circle cx="644.70" cy="301.60" r="1.05" fill="#35AEC5" stroke="#111" stroke-width="0.5"/>
<circle cx="639.80" cy="303.80" r="1.05" fill="#35AEC5" stroke="#111" stroke-width="0.5"/>
<circle cx="651.60" cy="315.00" r="1.05" fill="#35AEC5" stroke="#111" stroke-width="0.5"/>
<line x1="524.20" y1="221.20" x2="602.60" y2="221.20" stroke="#333" stroke-width="0.9"/>
<text x="563.40" y="222.05" font-size="6.5" font-weight="bold" text-anchor="middle" fill="#111">*</text>
<line x1="524.20" y1="225.80" x2="563.40" y2="225.80" stroke="#8e8e8e" stroke-width="1.1"/>
<text x="543.80" y="226.65" font-size="6.5" font-weight="bold" text-anchor="middle" fill="#111">**</text>
<rect x="667.50" y="201.30" width="4.80" height="4.80" fill="#376BA3" stroke="#333" stroke-width="0.6"/>
<text x="673.60" y="205.40" font-size="5.0" text-anchor="start" fill="#111" stroke="#111" stroke-width="0.08">C_a</text>
<rect x="667.50" y="210.20" width="4.80" height="4.80" fill="#EF3439" stroke="#333" stroke-width="0.6"/>
<text x="673.60" y="214.30" font-size="5.0" text-anchor="start" fill="#111" stroke="#111" stroke-width="0.08">C_b</text>
<rect x="667.50" y="218.60" width="4.80" height="4.80" fill="#6AC46A" stroke="#333" stroke-width="0.6"/>
<text x="673.60" y="222.70" font-size="5.0" text-anchor="start" fill="#111" stroke="#111" stroke-width="0.08">C_c</text>
<rect x="667.50" y="226.80" width="4.80" height="4.80" fill="#35AEC5" stroke="#333" stroke-width="0.6"/>
<text x="673.60" y="230.90" font-size="5.0" text-anchor="start" fill="#111" stroke="#111" stroke-width="0.08">C_d</text>
<text x="517.10" y="196.20" font-size="7.84" font-weight="bold" text-anchor="start" fill="#000" stroke="#000" stroke-width="0.1">Kruskal-Wallis H test for chao index</text>
<text x="488.00" y="279.30" font-size="5.6" font-weight="bold" text-anchor="middle" fill="#000" transform="rotate(-90 488.00 279.30)" stroke="#000" stroke-width="0.22">Chao index of ASV level</text>
<line x1="136.90" y1="399.30" x2="136.90" y2="535.60" stroke="#8f8f8f" stroke-width="0.9" stroke-dasharray="0.85 0.8"/>
<line x1="48.70" y1="464.10" x2="195.00" y2="464.10" stroke="#8f8f8f" stroke-width="0.9" stroke-dasharray="0.85 0.8"/>
<path d="M178.70,476.51 L178.67,478.34 L178.56,480.15 L178.39,481.91 L178.14,483.64 L177.83,485.32 L177.45,486.95 L177.01,488.53 L176.50,490.04 L175.92,491.49 L175.28,492.88 L174.59,494.19 L173.83,495.43 L173.02,496.59 L172.15,497.67 L171.23,498.67 L170.26,499.57 L169.25,500.39 L168.19,501.12 L167.09,501.75 L165.95,502.29 L164.78,502.73 L163.57,503.07 L162.34,503.31 L161.08,503.46 L159.80,503.50 L158.50,503.44 L157.19,503.28 L155.87,503.03 L154.53,502.67 L153.20,502.22 L151.87,501.67 L150.53,501.02 L149.21,500.28 L147.90,499.45 L146.60,498.53 L145.32,497.52 L144.06,496.43 L142.83,495.26 L141.62,494.01 L140.45,492.68 L139.31,491.29 L138.21,489.82 L137.15,488.30 L136.14,486.72 L135.17,485.08 L134.25,483.39 L133.38,481.66 L132.57,479.89 L131.81,478.08 L131.12,476.24 L130.48,474.37 L129.90,472.49 L129.39,470.59 L128.95,468.68 L128.57,466.76 L128.26,464.84 L128.01,462.94 L127.84,461.04 L127.73,459.15 L127.70,457.29 L127.73,455.46 L127.84,453.65 L128.01,451.89 L128.26,450.16 L128.57,448.48 L128.95,446.85 L129.39,445.27 L129.90,443.76 L130.48,442.31 L131.12,440.92 L131.81,439.61 L132.57,438.37 L133.38,437.21 L134.25,436.13 L135.17,435.13 L136.14,434.23 L137.15,433.41 L138.21,432.68 L139.31,432.05 L140.45,431.51 L141.62,431.07 L142.83,430.73 L144.06,430.49 L145.32,430.34 L146.60,430.30 L147.90,430.36 L149.21,430.52 L150.53,430.77 L151.87,431.13 L153.20,431.58 L154.53,432.13 L155.87,432.78 L157.19,433.52 L158.50,434.35 L159.80,435.27 L161.08,436.28 L162.34,437.37 L163.57,438.54 L164.78,439.79 L165.95,441.12 L167.09,442.51 L168.19,443.98 L169.25,445.50 L170.26,447.08 L171.23,448.72 L172.15,450.41 L173.02,452.14 L173.83,453.91 L174.59,455.72 L175.28,457.56 L175.92,459.43 L176.50,461.31 L177.01,463.21 L177.45,465.12 L177.83,467.04 L178.14,468.96 L178.39,470.86 L178.56,472.76 L178.67,474.65 Z" fill="none" stroke="#5FA85F" stroke-width="0.75"/>
<path d="M161.50,489.61 L161.46,491.94 L161.36,494.22 L161.18,496.46 L160.93,498.64 L160.61,500.76 L160.22,502.82 L159.76,504.81 L159.23,506.72 L158.64,508.54 L157.98,510.29 L157.27,511.93 L156.49,513.49 L155.65,514.94 L154.76,516.29 L153.81,517.53 L152.81,518.66 L151.77,519.67 L150.68,520.57 L149.55,521.34 L148.38,522.00 L147.17,522.53 L145.93,522.94 L144.66,523.22 L143.36,523.37 L142.04,523.39 L140.71,523.29 L139.36,523.06 L137.99,522.71 L136.62,522.22 L135.25,521.62 L133.88,520.89 L132.51,520.04 L131.14,519.07 L129.79,517.98 L128.46,516.79 L127.14,515.48 L125.84,514.07 L124.57,512.56 L123.33,510.94 L122.12,509.24 L120.95,507.44 L119.82,505.57 L118.73,503.61 L117.69,501.58 L116.69,499.48 L115.74,497.32 L114.85,495.10 L114.01,492.84 L113.23,490.53 L112.52,488.18 L111.86,485.80 L111.27,483.40 L110.74,480.98 L110.28,478.55 L109.89,476.11 L109.57,473.67 L109.32,471.25 L109.14,468.84 L109.04,466.45 L109.00,464.09 L109.04,461.76 L109.14,459.48 L109.32,457.24 L109.57,455.06 L109.89,452.94 L110.28,450.88 L110.74,448.89 L111.27,446.98 L111.86,445.16 L112.52,443.41 L113.23,441.77 L114.01,440.21 L114.85,438.76 L115.74,437.41 L116.69,436.17 L117.69,435.04 L118.73,434.03 L119.82,433.13 L120.95,432.36 L122.12,431.70 L123.33,431.17 L124.57,430.76 L125.84,430.48 L127.14,430.33 L128.46,430.31 L129.79,430.41 L131.14,430.64 L132.51,430.99 L133.88,431.48 L135.25,432.08 L136.62,432.81 L137.99,433.66 L139.36,434.63 L140.71,435.72 L142.04,436.91 L143.36,438.22 L144.66,439.63 L145.93,441.14 L147.17,442.76 L148.38,444.46 L149.55,446.26 L150.68,448.13 L151.77,450.09 L152.81,452.12 L153.81,454.22 L154.76,456.38 L155.65,458.60 L156.49,460.86 L157.27,463.17 L157.98,465.52 L158.64,467.90 L159.23,470.30 L159.76,472.72 L160.22,475.15 L160.61,477.59 L160.93,480.03 L161.18,482.45 L161.36,484.86 L161.46,487.25 Z" fill="none" stroke="#EE7070" stroke-width="0.75"/>
<path d="M134.10,460.04 L134.05,460.82 L133.89,461.59 L133.62,462.36 L133.25,463.11 L132.77,463.85 L132.19,464.57 L131.51,465.28 L130.73,465.97 L129.85,466.63 L128.88,467.28 L127.82,467.90 L126.66,468.49 L125.42,469.06 L124.10,469.60 L122.69,470.10 L121.21,470.58 L119.66,471.02 L118.04,471.43 L116.36,471.80 L114.63,472.13 L112.83,472.43 L110.99,472.69 L109.11,472.91 L107.19,473.09 L105.23,473.23 L103.25,473.33 L101.24,473.38 L99.22,473.40 L97.19,473.38 L95.15,473.31 L93.11,473.20 L91.08,473.06 L89.06,472.87 L87.05,472.64 L85.07,472.38 L83.11,472.07 L81.19,471.73 L79.31,471.35 L77.47,470.94 L75.68,470.49 L73.94,470.01 L72.26,469.50 L70.64,468.95 L69.09,468.38 L67.61,467.78 L66.20,467.16 L64.88,466.51 L63.64,465.83 L62.48,465.14 L61.42,464.43 L60.45,463.70 L59.57,462.96 L58.79,462.21 L58.11,461.44 L57.53,460.67 L57.05,459.89 L56.68,459.11 L56.41,458.32 L56.25,457.54 L56.20,456.76 L56.25,455.98 L56.41,455.21 L56.68,454.44 L57.05,453.69 L57.53,452.95 L58.11,452.23 L58.79,451.52 L59.57,450.83 L60.45,450.17 L61.42,449.52 L62.48,448.90 L63.64,448.31 L64.88,447.74 L66.20,447.20 L67.61,446.70 L69.09,446.22 L70.64,445.78 L72.26,445.37 L73.94,445.00 L75.67,444.67 L77.47,444.37 L79.31,444.11 L81.19,443.89 L83.11,443.71 L85.07,443.57 L87.05,443.47 L89.06,443.42 L91.08,443.40 L93.11,443.42 L95.15,443.49 L97.19,443.60 L99.22,443.74 L101.24,443.93 L103.25,444.16 L105.23,444.42 L107.19,444.73 L109.11,445.07 L110.99,445.45 L112.83,445.86 L114.63,446.31 L116.36,446.79 L118.04,447.30 L119.66,447.85 L121.21,448.42 L122.69,449.02 L124.10,449.64 L125.42,450.29 L126.66,450.97 L127.82,451.66 L128.88,452.37 L129.85,453.10 L130.73,453.84 L131.51,454.59 L132.19,455.36 L132.77,456.13 L133.25,456.91 L133.62,457.69 L133.89,458.48 L134.05,459.26 Z" fill="none" stroke="#3D97DA" stroke-width="0.75"/>
<path d="M183.90,427.00 L183.87,428.93 L183.77,430.92 L183.62,432.97 L183.40,435.08 L183.11,437.23 L182.77,439.43 L182.37,441.66 L181.91,443.92 L181.39,446.21 L180.81,448.51 L180.18,450.83 L179.50,453.14 L178.76,455.46 L177.98,457.77 L177.15,460.07 L176.27,462.34 L175.36,464.59 L174.40,466.81 L173.40,468.98 L172.38,471.11 L171.31,473.20 L170.23,475.22 L169.11,477.18 L167.97,479.08 L166.82,480.90 L165.64,482.64 L164.46,484.31 L163.26,485.88 L162.06,487.37 L160.85,488.76 L159.64,490.05 L158.44,491.23 L157.24,492.32 L156.06,493.29 L154.88,494.15 L153.73,494.90 L152.59,495.53 L151.47,496.04 L150.39,496.44 L149.32,496.71 L148.30,496.86 L147.30,496.90 L146.34,496.81 L145.43,496.60 L144.55,496.27 L143.72,495.82 L142.94,495.25 L142.20,494.56 L141.52,493.76 L140.89,492.85 L140.31,491.82 L139.79,490.69 L139.33,489.45 L138.93,488.12 L138.59,486.68 L138.30,485.15 L138.08,483.54 L137.93,481.84 L137.83,480.05 L137.80,478.20 L137.83,476.27 L137.93,474.28 L138.08,472.23 L138.30,470.12 L138.59,467.97 L138.93,465.77 L139.33,463.54 L139.79,461.28 L140.31,458.99 L140.89,456.69 L141.52,454.37 L142.20,452.06 L142.94,449.74 L143.72,447.43 L144.55,445.13 L145.43,442.86 L146.34,440.61 L147.30,438.39 L148.30,436.22 L149.32,434.09 L150.39,432.00 L151.47,429.98 L152.59,428.02 L153.73,426.12 L154.88,424.30 L156.06,422.56 L157.24,420.89 L158.44,419.32 L159.64,417.83 L160.85,416.44 L162.06,415.15 L163.26,413.97 L164.46,412.88 L165.64,411.91 L166.82,411.05 L167.97,410.30 L169.11,409.67 L170.23,409.16 L171.31,408.76 L172.38,408.49 L173.40,408.34 L174.40,408.30 L175.36,408.39 L176.27,408.60 L177.15,408.93 L177.98,409.38 L178.76,409.95 L179.50,410.64 L180.18,411.44 L180.81,412.35 L181.39,413.38 L181.91,414.51 L182.37,415.75 L182.77,417.08 L183.11,418.52 L183.40,420.05 L183.62,421.66 L183.77,423.36 L183.87,425.15 Z" fill="none" stroke="#F9B050" stroke-width="0.75"/>
<circle cx="144.20" cy="447.80" r="2.15" fill="#2E8B3A" stroke="none" stroke-width="0"/>
<circle cx="158.60" cy="463.80" r="2.15" fill="#2E8B3A" stroke="none" stroke-width="0"/>
<circle cx="163.40" cy="465.00" r="2.15" fill="#2E8B3A" stroke="none" stroke-width="0"/>
<circle cx="147.00" cy="473.50" r="2.15" fill="#2E8B3A" stroke="none" stroke-width="0"/>
<circle cx="148.90" cy="471.40" r="2.15" fill="#2E8B3A" stroke="none" stroke-width="0"/>
<circle cx="155.80" cy="478.00" r="2.15" fill="#2E8B3A" stroke="none" stroke-width="0"/>
<circle cx="126.00" cy="458.20" r="2.15" fill="#E8393B" stroke="none" stroke-width="0"/>
<circle cx="141.80" cy="472.30" r="2.15" fill="#E8393B" stroke="none" stroke-width="0"/>
<circle cx="142.10" cy="477.50" r="2.15" fill="#E8393B" stroke="none" stroke-width="0"/>
<circle cx="131.20" cy="489.40" r="2.15" fill="#E8393B" stroke="none" stroke-width="0"/>
<circle cx="134.80" cy="487.50" r="2.15" fill="#E8393B" stroke="none" stroke-width="0"/>
<circle cx="83.20" cy="458.00" r="2.15" fill="#1A86D2" stroke="none" stroke-width="0"/>
<circle cx="85.90" cy="460.50" r="2.15" fill="#1A86D2" stroke="none" stroke-width="0"/>
<circle cx="96.00" cy="455.00" r="2.15" fill="#1A86D2" stroke="none" stroke-width="0"/>
<circle cx="104.90" cy="455.00" r="2.15" fill="#1A86D2" stroke="none" stroke-width="0"/>
<circle cx="105.80" cy="464.60" r="2.15" fill="#1A86D2" stroke="none" stroke-width="0"/>
<circle cx="161.90" cy="438.50" r="2.15" fill="#F7981C" stroke="none" stroke-width="0"/>
<circle cx="166.20" cy="445.60" r="2.15" fill="#F7981C" stroke="none" stroke-width="0"/>
<circle cx="154.80" cy="453.70" r="2.15" fill="#F7981C" stroke="none" stroke-width="0"/>
<circle cx="167.60" cy="454.80" r="2.15" fill="#F7981C" stroke="none" stroke-width="0"/>
<circle cx="154.60" cy="470.20" r="2.15" fill="#F7981C" stroke="none" stroke-width="0"/>
<path d="M48.70,399.30 H195.00 V535.60 H48.70" fill="none" stroke="#acacac" stroke-width="1.1"/>
<line x1="48.70" y1="398.80" x2="48.70" y2="536.10" stroke="#666" stroke-width="1.0"/>
<line x1="46.40" y1="529.05" x2="48.70" y2="529.05" stroke="#555" stroke-width="0.8"/>
<text x="45.70" y="530.95" font-size="4.6" text-anchor="end" fill="#000" stroke="#000" stroke-width="0.13">-1</text>
<line x1="46.40" y1="516.06" x2="48.70" y2="516.06" stroke="#555" stroke-width="0.8"/>
<text x="45.70" y="517.96" font-size="4.6" text-anchor="end" fill="#000" stroke="#000" stroke-width="0.13">-0.8</text>
<line x1="46.40" y1="503.07" x2="48.70" y2="503.07" stroke="#555" stroke-width="0.8"/>
<text x="45.70" y="504.97" font-size="4.6" text-anchor="end" fill="#000" stroke="#000" stroke-width="0.13">-0.6</text>
<line x1="46.40" y1="490.08" x2="48.70" y2="490.08" stroke="#555" stroke-width="0.8"/>
<text x="45.70" y="491.98" font-size="4.6" text-anchor="end" fill="#000" stroke="#000" stroke-width="0.13">-0.4</text>
<line x1="46.40" y1="477.09" x2="48.70" y2="477.09" stroke="#555" stroke-width="0.8"/>
<text x="45.70" y="478.99" font-size="4.6" text-anchor="end" fill="#000" stroke="#000" stroke-width="0.13">-0.2</text>
<line x1="46.40" y1="464.10" x2="48.70" y2="464.10" stroke="#555" stroke-width="0.8"/>
<text x="45.70" y="466.00" font-size="4.6" text-anchor="end" fill="#000" stroke="#000" stroke-width="0.13">0</text>
<line x1="46.40" y1="451.11" x2="48.70" y2="451.11" stroke="#555" stroke-width="0.8"/>
<text x="45.70" y="453.01" font-size="4.6" text-anchor="end" fill="#000" stroke="#000" stroke-width="0.13">0.2</text>
<line x1="46.40" y1="438.12" x2="48.70" y2="438.12" stroke="#555" stroke-width="0.8"/>
<text x="45.70" y="440.02" font-size="4.6" text-anchor="end" fill="#000" stroke="#000" stroke-width="0.13">0.4</text>
<line x1="46.40" y1="425.13" x2="48.70" y2="425.13" stroke="#555" stroke-width="0.8"/>
<text x="45.70" y="427.03" font-size="4.6" text-anchor="end" fill="#000" stroke="#000" stroke-width="0.13">0.6</text>
<line x1="46.40" y1="412.14" x2="48.70" y2="412.14" stroke="#555" stroke-width="0.8"/>
<text x="45.70" y="414.04" font-size="4.6" text-anchor="end" fill="#000" stroke="#000" stroke-width="0.13">0.8</text>
<line x1="46.40" y1="399.15" x2="48.70" y2="399.15" stroke="#555" stroke-width="0.8"/>
<text x="45.70" y="401.05" font-size="4.6" text-anchor="end" fill="#000" stroke="#000" stroke-width="0.13">1</text>
<line x1="55.22" y1="535.60" x2="55.22" y2="537.90" stroke="#555" stroke-width="0.8"/>
<text x="55.22" y="543.00" font-size="4.7" text-anchor="middle" fill="#000" stroke="#000" stroke-width="0.13">-0.8</text>
<line x1="65.43" y1="535.60" x2="65.43" y2="537.90" stroke="#555" stroke-width="0.8"/>
<text x="65.43" y="543.00" font-size="4.7" text-anchor="middle" fill="#000" stroke="#000" stroke-width="0.13">-0.7</text>
<line x1="75.64" y1="535.60" x2="75.64" y2="537.90" stroke="#555" stroke-width="0.8"/>
<text x="75.64" y="543.00" font-size="4.7" text-anchor="middle" fill="#000" stroke="#000" stroke-width="0.13">-0.6</text>
<line x1="85.85" y1="535.60" x2="85.85" y2="537.90" stroke="#555" stroke-width="0.8"/>
<text x="85.85" y="543.00" font-size="4.7" text-anchor="middle" fill="#000" stroke="#000" stroke-width="0.13">-0.5</text>
<line x1="96.06" y1="535.60" x2="96.06" y2="537.90" stroke="#555" stroke-width="0.8"/>
<text x="96.06" y="543.00" font-size="4.7" text-anchor="middle" fill="#000" stroke="#000" stroke-width="0.13">-0.4</text>
<line x1="106.27" y1="535.60" x2="106.27" y2="537.90" stroke="#555" stroke-width="0.8"/>
<text x="106.27" y="543.00" font-size="4.7" text-anchor="middle" fill="#000" stroke="#000" stroke-width="0.13">-0.3</text>
<line x1="116.48" y1="535.60" x2="116.48" y2="537.90" stroke="#555" stroke-width="0.8"/>
<text x="116.48" y="543.00" font-size="4.7" text-anchor="middle" fill="#000" stroke="#000" stroke-width="0.13">-0.2</text>
<line x1="126.69" y1="535.60" x2="126.69" y2="537.90" stroke="#555" stroke-width="0.8"/>
<text x="126.69" y="543.00" font-size="4.7" text-anchor="middle" fill="#000" stroke="#000" stroke-width="0.13">-0.1</text>
<line x1="136.90" y1="535.60" x2="136.90" y2="537.90" stroke="#555" stroke-width="0.8"/>
<text x="136.90" y="543.00" font-size="4.7" text-anchor="middle" fill="#000" stroke="#000" stroke-width="0.13">0</text>
<line x1="147.11" y1="535.60" x2="147.11" y2="537.90" stroke="#555" stroke-width="0.8"/>
<text x="147.11" y="543.00" font-size="4.7" text-anchor="middle" fill="#000" stroke="#000" stroke-width="0.13">0.1</text>
<line x1="157.32" y1="535.60" x2="157.32" y2="537.90" stroke="#555" stroke-width="0.8"/>
<text x="157.32" y="543.00" font-size="4.7" text-anchor="middle" fill="#000" stroke="#000" stroke-width="0.13">0.2</text>
<line x1="167.53" y1="535.60" x2="167.53" y2="537.90" stroke="#555" stroke-width="0.8"/>
<text x="167.53" y="543.00" font-size="4.7" text-anchor="middle" fill="#000" stroke="#000" stroke-width="0.13">0.3</text>
<line x1="177.74" y1="535.60" x2="177.74" y2="537.90" stroke="#555" stroke-width="0.8"/>
<text x="177.74" y="543.00" font-size="4.7" text-anchor="middle" fill="#000" stroke="#000" stroke-width="0.13">0.4</text>
<line x1="187.95" y1="535.60" x2="187.95" y2="537.90" stroke="#555" stroke-width="0.8"/>
<text x="187.95" y="543.00" font-size="4.7" text-anchor="middle" fill="#000" stroke="#000" stroke-width="0.13">0.5</text>
<text x="95.30" y="385.60" font-size="6.2" font-weight="bold" text-anchor="start" fill="#000" stroke="#000" stroke-width="0.12">PCoA on ASV level</text>
<text x="102.20" y="391.30" font-size="4.16" text-anchor="start" fill="#222">R=0.5876, P=0.001000</text>
<circle cx="202.50" cy="403.60" r="2.3" fill="#2E8B3A" stroke="none" stroke-width="0"/>
<text x="205.90" y="405.10" font-size="4.1" text-anchor="start" fill="#111">A_a</text>
<circle cx="202.50" cy="410.10" r="2.3" fill="#E8393B" stroke="none" stroke-width="0"/>
<text x="205.90" y="411.60" font-size="4.1" text-anchor="start" fill="#111">A_b</text>
<circle cx="202.50" cy="416.30" r="2.3" fill="#1A86D2" stroke="none" stroke-width="0"/>
<text x="205.90" y="417.80" font-size="4.1" text-anchor="start" fill="#111">A_c</text>
<circle cx="202.50" cy="422.60" r="2.3" fill="#F7981C" stroke="none" stroke-width="0"/>
<text x="205.90" y="424.10" font-size="4.1" text-anchor="start" fill="#111">A_d</text>
<text x="121.85" y="548.60" font-size="5.4" font-weight="bold" text-anchor="middle" fill="#000" stroke="#000" stroke-width="0.08">PC1(27.32%)</text>
<text x="34.00" y="463.80" font-size="5.4" font-weight="bold" text-anchor="middle" fill="#000" transform="rotate(-90 34.00 463.80)" stroke="#000" stroke-width="0.1">PC2(16.64%)</text>
<line x1="353.20" y1="399.00" x2="353.20" y2="535.40" stroke="#8f8f8f" stroke-width="0.9" stroke-dasharray="0.85 0.8"/>
<line x1="280.30" y1="459.10" x2="426.20" y2="459.10" stroke="#8f8f8f" stroke-width="0.9" stroke-dasharray="0.85 0.8"/>
<path d="M391.70,423.42 L391.63,424.63 L391.42,425.92 L391.06,427.30 L390.57,428.75 L389.93,430.27 L389.16,431.87 L388.26,433.53 L387.22,435.24 L386.05,437.01 L384.75,438.84 L383.34,440.70 L381.80,442.61 L380.15,444.55 L378.38,446.52 L376.51,448.52 L374.54,450.53 L372.48,452.56 L370.33,454.59 L368.09,456.63 L365.78,458.66 L363.39,460.69 L360.94,462.70 L358.43,464.68 L355.87,466.65 L353.27,468.58 L350.63,470.47 L347.96,472.33 L345.27,474.14 L342.56,475.89 L339.85,477.59 L337.14,479.23 L334.43,480.80 L331.74,482.30 L329.07,483.73 L326.43,485.08 L323.83,486.35 L321.27,487.53 L318.76,488.63 L316.31,489.63 L313.93,490.54 L311.61,491.36 L309.37,492.07 L307.22,492.69 L305.16,493.20 L303.19,493.60 L301.32,493.91 L299.55,494.10 L297.90,494.19 L296.36,494.18 L294.95,494.05 L293.65,493.83 L292.48,493.49 L291.44,493.05 L290.54,492.51 L289.77,491.86 L289.13,491.12 L288.64,490.27 L288.28,489.34 L288.07,488.30 L288.00,487.18 L288.07,485.97 L288.28,484.68 L288.64,483.30 L289.13,481.85 L289.77,480.33 L290.54,478.73 L291.44,477.07 L292.48,475.36 L293.65,473.59 L294.95,471.76 L296.36,469.90 L297.90,467.99 L299.55,466.05 L301.32,464.08 L303.19,462.08 L305.16,460.07 L307.22,458.04 L309.37,456.01 L311.61,453.97 L313.93,451.94 L316.31,449.91 L318.76,447.90 L321.27,445.92 L323.83,443.95 L326.43,442.02 L329.07,440.13 L331.74,438.27 L334.43,436.46 L337.14,434.71 L339.85,433.01 L342.56,431.37 L345.27,429.80 L347.96,428.30 L350.63,426.87 L353.27,425.52 L355.87,424.25 L358.43,423.07 L360.94,421.97 L363.39,420.97 L365.78,420.06 L368.09,419.24 L370.33,418.53 L372.48,417.91 L374.54,417.40 L376.51,417.00 L378.38,416.69 L380.15,416.50 L381.80,416.41 L383.34,416.42 L384.75,416.55 L386.05,416.77 L387.22,417.11 L388.26,417.55 L389.16,418.09 L389.93,418.74 L390.57,419.48 L391.06,420.33 L391.42,421.26 L391.63,422.30 Z" fill="none" stroke="#5FA85F" stroke-width="0.75"/>
<path d="M381.80,433.40 L381.76,435.19 L381.65,437.04 L381.46,438.95 L381.19,440.90 L380.85,442.90 L380.44,444.94 L379.95,447.01 L379.39,449.11 L378.76,451.23 L378.07,453.37 L377.31,455.51 L376.48,457.67 L375.59,459.82 L374.65,461.96 L373.64,464.09 L372.59,466.20 L371.48,468.28 L370.32,470.34 L369.12,472.36 L367.88,474.33 L366.59,476.26 L365.28,478.14 L363.93,479.96 L362.56,481.71 L361.16,483.40 L359.74,485.02 L358.31,486.56 L356.86,488.02 L355.41,489.39 L353.95,490.68 L352.49,491.87 L351.04,492.97 L349.59,493.97 L348.16,494.87 L346.74,495.67 L345.34,496.36 L343.97,496.94 L342.62,497.42 L341.31,497.78 L340.02,498.03 L338.78,498.17 L337.58,498.20 L336.42,498.11 L335.31,497.91 L334.26,497.60 L333.25,497.18 L332.31,496.65 L331.42,496.01 L330.59,495.26 L329.83,494.41 L329.14,493.46 L328.51,492.41 L327.95,491.26 L327.46,490.02 L327.05,488.68 L326.71,487.26 L326.44,485.76 L326.25,484.18 L326.14,482.52 L326.10,480.80 L326.14,479.01 L326.25,477.16 L326.44,475.25 L326.71,473.30 L327.05,471.30 L327.46,469.26 L327.95,467.19 L328.51,465.09 L329.14,462.97 L329.83,460.83 L330.59,458.69 L331.42,456.53 L332.31,454.38 L333.25,452.24 L334.26,450.11 L335.31,448.00 L336.42,445.92 L337.58,443.86 L338.78,441.84 L340.02,439.87 L341.31,437.94 L342.62,436.06 L343.97,434.24 L345.34,432.49 L346.74,430.80 L348.16,429.18 L349.59,427.64 L351.04,426.18 L352.49,424.81 L353.95,423.52 L355.41,422.33 L356.86,421.23 L358.31,420.23 L359.74,419.33 L361.16,418.53 L362.56,417.84 L363.93,417.26 L365.28,416.78 L366.59,416.42 L367.88,416.17 L369.12,416.03 L370.32,416.00 L371.48,416.09 L372.59,416.29 L373.64,416.60 L374.65,417.02 L375.59,417.55 L376.48,418.19 L377.31,418.94 L378.07,419.79 L378.76,420.74 L379.39,421.79 L379.95,422.94 L380.44,424.18 L380.85,425.52 L381.19,426.94 L381.46,428.44 L381.65,430.02 L381.76,431.68 Z" fill="none" stroke="#EE7070" stroke-width="0.75"/>
<path d="M362.40,423.44 L362.36,424.36 L362.24,425.38 L362.05,426.49 L361.78,427.70 L361.43,428.99 L361.01,430.37 L360.51,431.82 L359.94,433.36 L359.30,434.96 L358.59,436.64 L357.81,438.37 L356.97,440.17 L356.06,442.02 L355.09,443.92 L354.07,445.86 L352.99,447.84 L351.85,449.85 L350.67,451.89 L349.44,453.95 L348.18,456.03 L346.87,458.11 L345.52,460.20 L344.15,462.29 L342.74,464.38 L341.31,466.45 L339.87,468.50 L338.40,470.53 L336.92,472.53 L335.44,474.49 L333.95,476.41 L332.46,478.29 L330.98,480.12 L329.50,481.89 L328.03,483.60 L326.59,485.24 L325.16,486.82 L323.75,488.32 L322.38,489.74 L321.03,491.08 L319.73,492.33 L318.46,493.50 L317.23,494.57 L316.05,495.55 L314.91,496.43 L313.83,497.21 L312.81,497.88 L311.84,498.45 L310.93,498.92 L310.09,499.28 L309.31,499.53 L308.60,499.67 L307.96,499.70 L307.39,499.62 L306.89,499.43 L306.47,499.13 L306.12,498.73 L305.85,498.22 L305.66,497.60 L305.54,496.88 L305.50,496.06 L305.54,495.14 L305.66,494.12 L305.85,493.01 L306.12,491.80 L306.47,490.51 L306.89,489.13 L307.39,487.68 L307.96,486.14 L308.60,484.54 L309.31,482.86 L310.09,481.13 L310.93,479.33 L311.84,477.48 L312.81,475.58 L313.83,473.64 L314.91,471.66 L316.05,469.65 L317.23,467.61 L318.46,465.55 L319.72,463.47 L321.03,461.39 L322.38,459.30 L323.75,457.21 L325.16,455.12 L326.59,453.05 L328.03,451.00 L329.50,448.97 L330.98,446.97 L332.46,445.01 L333.95,443.09 L335.44,441.21 L336.92,439.38 L338.40,437.61 L339.87,435.90 L341.31,434.26 L342.74,432.68 L344.15,431.18 L345.52,429.76 L346.87,428.42 L348.18,427.17 L349.44,426.00 L350.67,424.93 L351.85,423.95 L352.99,423.07 L354.07,422.29 L355.09,421.62 L356.06,421.05 L356.97,420.58 L357.81,420.22 L358.59,419.97 L359.30,419.83 L359.94,419.80 L360.51,419.88 L361.01,420.07 L361.43,420.37 L361.78,420.77 L362.05,421.28 L362.24,421.90 L362.36,422.62 Z" fill="none" stroke="#3D97DA" stroke-width="0.75"/>
<path d="M417.00,452.17 L416.97,455.23 L416.87,458.32 L416.70,461.43 L416.47,464.54 L416.17,467.66 L415.81,470.78 L415.38,473.87 L414.89,476.95 L414.34,479.99 L413.73,482.99 L413.06,485.94 L412.34,488.84 L411.56,491.67 L410.73,494.43 L409.85,497.11 L408.93,499.70 L407.96,502.20 L406.94,504.59 L405.89,506.88 L404.80,509.05 L403.68,511.10 L402.52,513.03 L401.34,514.82 L400.14,516.48 L398.92,518.00 L397.67,519.38 L396.42,520.60 L395.15,521.68 L393.88,522.60 L392.60,523.36 L391.32,523.96 L390.05,524.40 L388.78,524.68 L387.53,524.80 L386.28,524.75 L385.06,524.54 L383.86,524.17 L382.68,523.63 L381.52,522.94 L380.40,522.08 L379.31,521.07 L378.26,519.91 L377.24,518.60 L376.27,517.14 L375.35,515.54 L374.47,513.80 L373.64,511.93 L372.86,509.93 L372.14,507.81 L371.47,505.57 L370.86,503.22 L370.31,500.76 L369.82,498.21 L369.39,495.57 L369.03,492.84 L368.73,490.04 L368.50,487.17 L368.33,484.24 L368.23,481.26 L368.20,478.23 L368.23,475.17 L368.33,472.08 L368.50,468.97 L368.73,465.86 L369.03,462.74 L369.39,459.62 L369.82,456.53 L370.31,453.45 L370.86,450.41 L371.47,447.41 L372.14,444.46 L372.86,441.56 L373.64,438.73 L374.47,435.97 L375.35,433.29 L376.27,430.70 L377.24,428.20 L378.26,425.81 L379.31,423.52 L380.40,421.35 L381.52,419.30 L382.68,417.37 L383.86,415.58 L385.06,413.92 L386.28,412.40 L387.53,411.02 L388.78,409.80 L390.05,408.72 L391.32,407.80 L392.60,407.04 L393.88,406.44 L395.15,406.00 L396.42,405.72 L397.67,405.60 L398.92,405.65 L400.14,405.86 L401.34,406.23 L402.52,406.77 L403.68,407.46 L404.80,408.32 L405.89,409.33 L406.94,410.49 L407.96,411.80 L408.93,413.26 L409.85,414.86 L410.73,416.60 L411.56,418.47 L412.34,420.47 L413.06,422.59 L413.73,424.83 L414.34,427.18 L414.89,429.64 L415.38,432.19 L415.81,434.83 L416.17,437.56 L416.47,440.36 L416.70,443.23 L416.87,446.16 L416.97,449.14 Z" fill="none" stroke="#F9B050" stroke-width="0.75"/>
<circle cx="342.70" cy="446.10" r="2.15" fill="#2E8B3A" stroke="none" stroke-width="0"/>
<circle cx="333.20" cy="454.10" r="2.15" fill="#2E8B3A" stroke="none" stroke-width="0"/>
<circle cx="331.70" cy="463.10" r="2.15" fill="#2E8B3A" stroke="none" stroke-width="0"/>
<circle cx="327.80" cy="468.10" r="2.15" fill="#2E8B3A" stroke="none" stroke-width="0"/>
<circle cx="362.40" cy="444.20" r="2.15" fill="#2E8B3A" stroke="none" stroke-width="0"/>
<circle cx="355.70" cy="444.20" r="2.15" fill="#E8393B" stroke="none" stroke-width="0"/>
<circle cx="357.00" cy="446.90" r="2.15" fill="#E8393B" stroke="none" stroke-width="0"/>
<circle cx="360.50" cy="448.40" r="2.15" fill="#E8393B" stroke="none" stroke-width="0"/>
<circle cx="356.60" cy="461.80" r="2.15" fill="#E8393B" stroke="none" stroke-width="0"/>
<circle cx="356.60" cy="469.80" r="2.15" fill="#E8393B" stroke="none" stroke-width="0"/>
<circle cx="337.60" cy="471.70" r="2.15" fill="#E8393B" stroke="none" stroke-width="0"/>
<circle cx="346.20" cy="440.80" r="2.15" fill="#1A86D2" stroke="none" stroke-width="0"/>
<circle cx="336.40" cy="462.30" r="2.15" fill="#1A86D2" stroke="none" stroke-width="0"/>
<circle cx="328.40" cy="462.70" r="2.15" fill="#1A86D2" stroke="none" stroke-width="0"/>
<circle cx="330.00" cy="467.10" r="2.15" fill="#1A86D2" stroke="none" stroke-width="0"/>
<circle cx="329.50" cy="465.00" r="2.15" fill="#1A86D2" stroke="none" stroke-width="0"/>
<circle cx="389.80" cy="447.80" r="2.15" fill="#F7981C" stroke="none" stroke-width="0"/>
<circle cx="400.60" cy="460.70" r="2.15" fill="#F7981C" stroke="none" stroke-width="0"/>
<circle cx="388.20" cy="476.00" r="2.15" fill="#F7981C" stroke="none" stroke-width="0"/>
<circle cx="391.70" cy="476.00" r="2.15" fill="#F7981C" stroke="none" stroke-width="0"/>
<path d="M280.30,399.00 H426.20 V535.40 H280.30" fill="none" stroke="#acacac" stroke-width="1.1"/>
<line x1="280.30" y1="398.50" x2="280.30" y2="535.90" stroke="#666" stroke-width="1.0"/>
<line x1="278.00" y1="529.10" x2="280.30" y2="529.10" stroke="#555" stroke-width="0.8"/>
<text x="277.30" y="531.00" font-size="4.6" text-anchor="end" fill="#000" stroke="#000" stroke-width="0.13">-1.4</text>
<line x1="278.00" y1="519.10" x2="280.30" y2="519.10" stroke="#555" stroke-width="0.8"/>
<text x="277.30" y="521.00" font-size="4.6" text-anchor="end" fill="#000" stroke="#000" stroke-width="0.13">-1.2</text>
<line x1="278.00" y1="509.10" x2="280.30" y2="509.10" stroke="#555" stroke-width="0.8"/>
<text x="277.30" y="511.00" font-size="4.6" text-anchor="end" fill="#000" stroke="#000" stroke-width="0.13">-1</text>
<line x1="278.00" y1="499.10" x2="280.30" y2="499.10" stroke="#555" stroke-width="0.8"/>
<text x="277.30" y="501.00" font-size="4.6" text-anchor="end" fill="#000" stroke="#000" stroke-width="0.13">-0.8</text>
<line x1="278.00" y1="489.10" x2="280.30" y2="489.10" stroke="#555" stroke-width="0.8"/>
<text x="277.30" y="491.00" font-size="4.6" text-anchor="end" fill="#000" stroke="#000" stroke-width="0.13">-0.6</text>
<line x1="278.00" y1="479.10" x2="280.30" y2="479.10" stroke="#555" stroke-width="0.8"/>
<text x="277.30" y="481.00" font-size="4.6" text-anchor="end" fill="#000" stroke="#000" stroke-width="0.13">-0.4</text>
<line x1="278.00" y1="469.10" x2="280.30" y2="469.10" stroke="#555" stroke-width="0.8"/>
<text x="277.30" y="471.00" font-size="4.6" text-anchor="end" fill="#000" stroke="#000" stroke-width="0.13">-0.2</text>
<line x1="278.00" y1="459.10" x2="280.30" y2="459.10" stroke="#555" stroke-width="0.8"/>
<text x="277.30" y="461.00" font-size="4.6" text-anchor="end" fill="#000" stroke="#000" stroke-width="0.13">0</text>
<line x1="278.00" y1="449.10" x2="280.30" y2="449.10" stroke="#555" stroke-width="0.8"/>
<text x="277.30" y="451.00" font-size="4.6" text-anchor="end" fill="#000" stroke="#000" stroke-width="0.13">0.2</text>
<line x1="278.00" y1="439.10" x2="280.30" y2="439.10" stroke="#555" stroke-width="0.8"/>
<text x="277.30" y="441.00" font-size="4.6" text-anchor="end" fill="#000" stroke="#000" stroke-width="0.13">0.4</text>
<line x1="278.00" y1="429.10" x2="280.30" y2="429.10" stroke="#555" stroke-width="0.8"/>
<text x="277.30" y="431.00" font-size="4.6" text-anchor="end" fill="#000" stroke="#000" stroke-width="0.13">0.6</text>
<line x1="278.00" y1="419.10" x2="280.30" y2="419.10" stroke="#555" stroke-width="0.8"/>
<text x="277.30" y="421.00" font-size="4.6" text-anchor="end" fill="#000" stroke="#000" stroke-width="0.13">0.8</text>
<line x1="278.00" y1="409.10" x2="280.30" y2="409.10" stroke="#555" stroke-width="0.8"/>
<text x="277.30" y="411.00" font-size="4.6" text-anchor="end" fill="#000" stroke="#000" stroke-width="0.13">1</text>
<line x1="278.00" y1="399.10" x2="280.30" y2="399.10" stroke="#555" stroke-width="0.8"/>
<text x="277.30" y="401.00" font-size="4.6" text-anchor="end" fill="#000" stroke="#000" stroke-width="0.13">1.2</text>
<line x1="286.80" y1="535.40" x2="286.80" y2="537.70" stroke="#555" stroke-width="0.8"/>
<text x="286.80" y="542.80" font-size="4.7" text-anchor="middle" fill="#000" stroke="#000" stroke-width="0.13">-0.8</text>
<line x1="303.40" y1="535.40" x2="303.40" y2="537.70" stroke="#555" stroke-width="0.8"/>
<text x="303.40" y="542.80" font-size="4.7" text-anchor="middle" fill="#000" stroke="#000" stroke-width="0.13">-0.6</text>
<line x1="320.00" y1="535.40" x2="320.00" y2="537.70" stroke="#555" stroke-width="0.8"/>
<text x="320.00" y="542.80" font-size="4.7" text-anchor="middle" fill="#000" stroke="#000" stroke-width="0.13">-0.4</text>
<line x1="336.60" y1="535.40" x2="336.60" y2="537.70" stroke="#555" stroke-width="0.8"/>
<text x="336.60" y="542.80" font-size="4.7" text-anchor="middle" fill="#000" stroke="#000" stroke-width="0.13">-0.2</text>
<line x1="353.20" y1="535.40" x2="353.20" y2="537.70" stroke="#555" stroke-width="0.8"/>
<text x="353.20" y="542.80" font-size="4.7" text-anchor="middle" fill="#000" stroke="#000" stroke-width="0.13">0</text>
<line x1="369.80" y1="535.40" x2="369.80" y2="537.70" stroke="#555" stroke-width="0.8"/>
<text x="369.80" y="542.80" font-size="4.7" text-anchor="middle" fill="#000" stroke="#000" stroke-width="0.13">0.2</text>
<line x1="386.40" y1="535.40" x2="386.40" y2="537.70" stroke="#555" stroke-width="0.8"/>
<text x="386.40" y="542.80" font-size="4.7" text-anchor="middle" fill="#000" stroke="#000" stroke-width="0.13">0.4</text>
<line x1="403.00" y1="535.40" x2="403.00" y2="537.70" stroke="#555" stroke-width="0.8"/>
<text x="403.00" y="542.80" font-size="4.7" text-anchor="middle" fill="#000" stroke="#000" stroke-width="0.13">0.6</text>
<line x1="419.60" y1="535.40" x2="419.60" y2="537.70" stroke="#555" stroke-width="0.8"/>
<text x="419.60" y="542.80" font-size="4.7" text-anchor="middle" fill="#000" stroke="#000" stroke-width="0.13">0.8</text>
<text x="326.90" y="385.30" font-size="6.2" font-weight="bold" text-anchor="start" fill="#000" stroke="#000" stroke-width="0.12">PCoA on ASV level</text>
<text x="333.80" y="391.00" font-size="4.16" text-anchor="start" fill="#222">R=0.5917, P=0.001000</text>
<circle cx="434.20" cy="403.70" r="2.3" fill="#2E8B3A" stroke="none" stroke-width="0"/>
<text x="437.60" y="405.20" font-size="4.1" text-anchor="start" fill="#111">B_a</text>
<circle cx="434.20" cy="410.00" r="2.3" fill="#E8393B" stroke="none" stroke-width="0"/>
<text x="437.60" y="411.50" font-size="4.1" text-anchor="start" fill="#111">B_b</text>
<circle cx="434.20" cy="416.10" r="2.3" fill="#1A86D2" stroke="none" stroke-width="0"/>
<text x="437.60" y="417.60" font-size="4.1" text-anchor="start" fill="#111">B_c</text>
<circle cx="434.20" cy="422.40" r="2.3" fill="#F7981C" stroke="none" stroke-width="0"/>
<text x="437.60" y="423.90" font-size="4.1" text-anchor="start" fill="#111">B_d</text>
<text x="353.25" y="548.60" font-size="5.4" font-weight="bold" text-anchor="middle" fill="#000" stroke="#000" stroke-width="0.08">PC1(29.27%)</text>
<text x="265.70" y="463.80" font-size="5.4" font-weight="bold" text-anchor="middle" fill="#000" transform="rotate(-90 265.70 463.80)" stroke="#000" stroke-width="0.1">PC2(18.73%)</text>
<line x1="585.90" y1="398.70" x2="585.90" y2="535.40" stroke="#8f8f8f" stroke-width="0.9" stroke-dasharray="0.85 0.8"/>
<line x1="512.50" y1="463.90" x2="659.30" y2="463.90" stroke="#8f8f8f" stroke-width="0.9" stroke-dasharray="0.85 0.8"/>
<path d="M639.20,459.52 L639.17,460.93 L639.06,462.41 L638.90,463.94 L638.66,465.52 L638.36,467.15 L637.99,468.82 L637.56,470.54 L637.07,472.29 L636.51,474.06 L635.90,475.86 L635.22,477.69 L634.49,479.52 L633.71,481.37 L632.87,483.22 L631.98,485.07 L631.04,486.91 L630.06,488.74 L629.04,490.56 L627.98,492.36 L626.88,494.13 L625.74,495.87 L624.58,497.58 L623.38,499.25 L622.17,500.87 L620.93,502.44 L619.68,503.96 L618.41,505.43 L617.13,506.83 L615.84,508.16 L614.55,509.43 L613.26,510.63 L611.97,511.75 L610.69,512.79 L609.42,513.75 L608.17,514.62 L606.93,515.41 L605.72,516.11 L604.52,516.72 L603.36,517.24 L602.22,517.66 L601.12,517.99 L600.06,518.22 L599.04,518.36 L598.06,518.40 L597.12,518.34 L596.23,518.19 L595.39,517.94 L594.61,517.59 L593.88,517.15 L593.20,516.62 L592.59,515.99 L592.03,515.28 L591.54,514.47 L591.11,513.58 L590.74,512.61 L590.44,511.55 L590.20,510.42 L590.04,509.21 L589.93,507.93 L589.90,506.58 L589.93,505.17 L590.04,503.69 L590.20,502.16 L590.44,500.58 L590.74,498.95 L591.11,497.28 L591.54,495.56 L592.03,493.81 L592.59,492.04 L593.20,490.24 L593.88,488.41 L594.61,486.58 L595.39,484.73 L596.23,482.88 L597.12,481.03 L598.06,479.19 L599.04,477.36 L600.06,475.54 L601.12,473.74 L602.22,471.97 L603.36,470.23 L604.52,468.52 L605.72,466.85 L606.93,465.23 L608.17,463.66 L609.42,462.14 L610.69,460.67 L611.97,459.27 L613.26,457.94 L614.55,456.67 L615.84,455.47 L617.13,454.35 L618.41,453.31 L619.68,452.35 L620.93,451.48 L622.17,450.69 L623.38,449.99 L624.58,449.38 L625.74,448.86 L626.88,448.44 L627.98,448.11 L629.04,447.88 L630.06,447.74 L631.04,447.70 L631.98,447.76 L632.87,447.91 L633.71,448.16 L634.49,448.51 L635.22,448.95 L635.90,449.48 L636.51,450.11 L637.07,450.82 L637.56,451.63 L637.99,452.52 L638.36,453.49 L638.66,454.55 L638.90,455.68 L639.06,456.89 L639.17,458.17 Z" fill="none" stroke="#5FA85F" stroke-width="0.75"/>
<path d="M619.40,440.66 L619.36,441.52 L619.22,442.38 L619.00,443.24 L618.69,444.10 L618.29,444.95 L617.81,445.80 L617.24,446.64 L616.59,447.46 L615.85,448.27 L615.04,449.07 L614.15,449.84 L613.18,450.60 L612.15,451.33 L611.04,452.04 L609.87,452.73 L608.63,453.38 L607.33,454.00 L605.98,454.59 L604.58,455.15 L603.12,455.68 L601.63,456.16 L600.09,456.61 L598.51,457.02 L596.91,457.39 L595.27,457.72 L593.62,458.00 L591.94,458.25 L590.25,458.45 L588.55,458.60 L586.85,458.71 L585.15,458.78 L583.45,458.80 L581.76,458.78 L580.08,458.71 L578.43,458.59 L576.79,458.43 L575.19,458.23 L573.61,457.99 L572.07,457.70 L570.58,457.37 L569.12,456.99 L567.72,456.58 L566.37,456.13 L565.07,455.64 L563.83,455.12 L562.66,454.55 L561.55,453.96 L560.52,453.33 L559.55,452.68 L558.66,451.99 L557.85,451.28 L557.11,450.55 L556.46,449.79 L555.89,449.01 L555.41,448.22 L555.01,447.40 L554.70,446.58 L554.48,445.74 L554.34,444.89 L554.30,444.04 L554.34,443.18 L554.48,442.32 L554.70,441.46 L555.01,440.60 L555.41,439.75 L555.89,438.90 L556.46,438.06 L557.11,437.24 L557.85,436.43 L558.66,435.63 L559.55,434.86 L560.52,434.10 L561.55,433.37 L562.66,432.66 L563.83,431.97 L565.07,431.32 L566.37,430.70 L567.72,430.11 L569.12,429.55 L570.58,429.02 L572.07,428.54 L573.61,428.09 L575.19,427.68 L576.79,427.31 L578.43,426.98 L580.08,426.70 L581.76,426.45 L583.45,426.25 L585.15,426.10 L586.85,425.99 L588.55,425.92 L590.25,425.90 L591.94,425.92 L593.62,425.99 L595.27,426.11 L596.91,426.27 L598.51,426.47 L600.09,426.71 L601.63,427.00 L603.12,427.33 L604.58,427.71 L605.98,428.12 L607.33,428.57 L608.63,429.06 L609.87,429.58 L611.04,430.15 L612.15,430.74 L613.18,431.37 L614.15,432.02 L615.04,432.71 L615.85,433.42 L616.59,434.15 L617.24,434.91 L617.81,435.69 L618.29,436.48 L618.69,437.30 L619.00,438.12 L619.22,438.96 L619.36,439.81 Z" fill="none" stroke="#EE7070" stroke-width="0.75"/>
<path d="M643.30,427.01 L643.23,428.96 L643.01,431.00 L642.64,433.12 L642.13,435.32 L641.48,437.60 L640.68,439.94 L639.75,442.34 L638.68,444.79 L637.47,447.30 L636.14,449.84 L634.68,452.42 L633.09,455.02 L631.39,457.64 L629.57,460.28 L627.64,462.91 L625.62,465.55 L623.49,468.18 L621.27,470.79 L618.96,473.37 L616.58,475.93 L614.12,478.44 L611.59,480.91 L609.00,483.33 L606.37,485.69 L603.68,487.99 L600.96,490.21 L598.21,492.36 L595.44,494.42 L592.65,496.40 L589.85,498.28 L587.05,500.06 L584.26,501.74 L581.49,503.31 L578.74,504.76 L576.02,506.10 L573.33,507.31 L570.70,508.41 L568.11,509.37 L565.58,510.21 L563.12,510.91 L560.74,511.48 L558.43,511.91 L556.21,512.21 L554.08,512.37 L552.06,512.39 L550.13,512.27 L548.31,512.02 L546.61,511.63 L545.02,511.10 L543.56,510.44 L542.23,509.64 L541.02,508.72 L539.95,507.66 L539.02,506.48 L538.22,505.18 L537.57,503.76 L537.06,502.23 L536.69,500.59 L536.47,498.84 L536.40,496.99 L536.47,495.04 L536.69,493.00 L537.06,490.88 L537.57,488.68 L538.22,486.40 L539.02,484.06 L539.95,481.66 L541.02,479.21 L542.23,476.70 L543.56,474.16 L545.02,471.58 L546.61,468.98 L548.31,466.36 L550.13,463.72 L552.06,461.09 L554.08,458.45 L556.21,455.82 L558.43,453.21 L560.74,450.63 L563.12,448.07 L565.58,445.56 L568.11,443.09 L570.70,440.67 L573.33,438.31 L576.02,436.01 L578.74,433.79 L581.49,431.64 L584.26,429.58 L587.05,427.60 L589.85,425.72 L592.65,423.94 L595.44,422.26 L598.21,420.69 L600.96,419.24 L603.68,417.90 L606.37,416.69 L609.00,415.59 L611.59,414.63 L614.12,413.79 L616.58,413.09 L618.96,412.52 L621.27,412.09 L623.49,411.79 L625.62,411.63 L627.64,411.61 L629.57,411.73 L631.39,411.98 L633.09,412.37 L634.68,412.90 L636.14,413.56 L637.47,414.36 L638.68,415.28 L639.75,416.34 L640.68,417.52 L641.48,418.82 L642.13,420.24 L642.64,421.77 L643.01,423.41 L643.23,425.16 Z" fill="none" stroke="#3D97DA" stroke-width="0.75"/>
<path d="M570.70,434.13 L570.67,435.23 L570.59,436.42 L570.45,437.72 L570.26,439.10 L570.01,440.59 L569.71,442.15 L569.36,443.81 L568.95,445.54 L568.50,447.34 L567.99,449.22 L567.44,451.15 L566.84,453.15 L566.20,455.20 L565.51,457.30 L564.78,459.44 L564.02,461.61 L563.21,463.82 L562.37,466.04 L561.50,468.29 L560.60,470.55 L559.67,472.81 L558.72,475.08 L557.74,477.33 L556.74,479.58 L555.73,481.80 L554.70,484.00 L553.66,486.17 L552.61,488.29 L551.56,490.38 L550.50,492.42 L549.44,494.40 L548.39,496.33 L547.34,498.18 L546.30,499.97 L545.27,501.68 L544.26,503.32 L543.26,504.87 L542.28,506.33 L541.33,507.69 L540.40,508.97 L539.50,510.14 L538.63,511.20 L537.79,512.17 L536.98,513.02 L536.22,513.76 L535.49,514.39 L534.80,514.91 L534.16,515.31 L533.56,515.59 L533.01,515.75 L532.50,515.80 L532.05,515.73 L531.64,515.53 L531.29,515.23 L530.99,514.80 L530.74,514.26 L530.55,513.60 L530.41,512.83 L530.33,511.95 L530.30,510.97 L530.33,509.87 L530.41,508.68 L530.55,507.38 L530.74,506.00 L530.99,504.51 L531.29,502.95 L531.64,501.29 L532.05,499.56 L532.50,497.76 L533.01,495.88 L533.56,493.95 L534.16,491.95 L534.80,489.90 L535.49,487.80 L536.22,485.66 L536.98,483.49 L537.79,481.28 L538.63,479.06 L539.50,476.81 L540.40,474.55 L541.33,472.29 L542.28,470.02 L543.26,467.77 L544.26,465.52 L545.27,463.30 L546.30,461.10 L547.34,458.93 L548.39,456.81 L549.44,454.72 L550.50,452.68 L551.56,450.70 L552.61,448.77 L553.66,446.92 L554.70,445.13 L555.73,443.42 L556.74,441.78 L557.74,440.23 L558.72,438.77 L559.67,437.41 L560.60,436.13 L561.50,434.96 L562.37,433.90 L563.21,432.93 L564.02,432.08 L564.78,431.34 L565.51,430.71 L566.20,430.19 L566.84,429.79 L567.44,429.51 L567.99,429.35 L568.50,429.30 L568.95,429.37 L569.36,429.57 L569.71,429.87 L570.01,430.30 L570.26,430.84 L570.45,431.50 L570.59,432.27 L570.67,433.15 Z" fill="none" stroke="#F9B050" stroke-width="0.75"/>
<circle cx="616.80" cy="470.60" r="2.15" fill="#2E8B3A" stroke="none" stroke-width="0"/>
<circle cx="619.70" cy="477.20" r="2.15" fill="#2E8B3A" stroke="none" stroke-width="0"/>
<circle cx="608.90" cy="485.20" r="2.15" fill="#2E8B3A" stroke="none" stroke-width="0"/>
<circle cx="620.00" cy="486.50" r="2.15" fill="#2E8B3A" stroke="none" stroke-width="0"/>
<circle cx="605.70" cy="495.20" r="2.15" fill="#2E8B3A" stroke="none" stroke-width="0"/>
<circle cx="584.00" cy="437.10" r="2.15" fill="#E8393B" stroke="none" stroke-width="0"/>
<circle cx="582.70" cy="440.00" r="2.15" fill="#E8393B" stroke="none" stroke-width="0"/>
<circle cx="584.40" cy="440.50" r="2.15" fill="#E8393B" stroke="none" stroke-width="0"/>
<circle cx="597.50" cy="438.30" r="2.15" fill="#E8393B" stroke="none" stroke-width="0"/>
<circle cx="599.80" cy="447.60" r="2.15" fill="#E8393B" stroke="none" stroke-width="0"/>
<circle cx="574.90" cy="449.50" r="2.15" fill="#E8393B" stroke="none" stroke-width="0"/>
<circle cx="593.70" cy="444.00" r="2.15" fill="#1A86D2" stroke="none" stroke-width="0"/>
<circle cx="599.00" cy="456.10" r="2.15" fill="#1A86D2" stroke="none" stroke-width="0"/>
<circle cx="587.80" cy="463.70" r="2.15" fill="#1A86D2" stroke="none" stroke-width="0"/>
<circle cx="602.80" cy="465.20" r="2.15" fill="#1A86D2" stroke="none" stroke-width="0"/>
<circle cx="566.40" cy="480.40" r="2.15" fill="#1A86D2" stroke="none" stroke-width="0"/>
<circle cx="558.00" cy="454.20" r="2.15" fill="#F7981C" stroke="none" stroke-width="0"/>
<circle cx="551.60" cy="470.30" r="2.15" fill="#F7981C" stroke="none" stroke-width="0"/>
<circle cx="553.30" cy="477.00" r="2.15" fill="#F7981C" stroke="none" stroke-width="0"/>
<circle cx="544.30" cy="480.70" r="2.15" fill="#F7981C" stroke="none" stroke-width="0"/>
<circle cx="546.40" cy="481.80" r="2.15" fill="#F7981C" stroke="none" stroke-width="0"/>
<path d="M512.50,398.70 H659.30 V535.40 H512.50" fill="none" stroke="#acacac" stroke-width="1.1"/>
<line x1="512.50" y1="398.20" x2="512.50" y2="535.90" stroke="#666" stroke-width="1.0"/>
<line x1="510.20" y1="529.50" x2="512.50" y2="529.50" stroke="#555" stroke-width="0.8"/>
<text x="509.50" y="531.40" font-size="4.6" text-anchor="end" fill="#000" stroke="#000" stroke-width="0.13">-0.8</text>
<line x1="510.20" y1="513.10" x2="512.50" y2="513.10" stroke="#555" stroke-width="0.8"/>
<text x="509.50" y="515.00" font-size="4.6" text-anchor="end" fill="#000" stroke="#000" stroke-width="0.13">-0.6</text>
<line x1="510.20" y1="496.70" x2="512.50" y2="496.70" stroke="#555" stroke-width="0.8"/>
<text x="509.50" y="498.60" font-size="4.6" text-anchor="end" fill="#000" stroke="#000" stroke-width="0.13">-0.4</text>
<line x1="510.20" y1="480.30" x2="512.50" y2="480.30" stroke="#555" stroke-width="0.8"/>
<text x="509.50" y="482.20" font-size="4.6" text-anchor="end" fill="#000" stroke="#000" stroke-width="0.13">-0.2</text>
<line x1="510.20" y1="463.90" x2="512.50" y2="463.90" stroke="#555" stroke-width="0.8"/>
<text x="509.50" y="465.80" font-size="4.6" text-anchor="end" fill="#000" stroke="#000" stroke-width="0.13">0</text>
<line x1="510.20" y1="447.50" x2="512.50" y2="447.50" stroke="#555" stroke-width="0.8"/>
<text x="509.50" y="449.40" font-size="4.6" text-anchor="end" fill="#000" stroke="#000" stroke-width="0.13">0.2</text>
<line x1="510.20" y1="431.10" x2="512.50" y2="431.10" stroke="#555" stroke-width="0.8"/>
<text x="509.50" y="433.00" font-size="4.6" text-anchor="end" fill="#000" stroke="#000" stroke-width="0.13">0.4</text>
<line x1="510.20" y1="414.70" x2="512.50" y2="414.70" stroke="#555" stroke-width="0.8"/>
<text x="509.50" y="416.60" font-size="4.6" text-anchor="end" fill="#000" stroke="#000" stroke-width="0.13">0.6</text>
<line x1="510.20" y1="398.30" x2="512.50" y2="398.30" stroke="#555" stroke-width="0.8"/>
<text x="509.50" y="400.20" font-size="4.6" text-anchor="end" fill="#000" stroke="#000" stroke-width="0.13">0.8</text>
<line x1="519.30" y1="535.40" x2="519.30" y2="537.70" stroke="#555" stroke-width="0.8"/>
<text x="519.30" y="542.80" font-size="4.7" text-anchor="middle" fill="#000" stroke="#000" stroke-width="0.13">-0.8</text>
<line x1="535.95" y1="535.40" x2="535.95" y2="537.70" stroke="#555" stroke-width="0.8"/>
<text x="535.95" y="542.80" font-size="4.7" text-anchor="middle" fill="#000" stroke="#000" stroke-width="0.13">-0.6</text>
<line x1="552.60" y1="535.40" x2="552.60" y2="537.70" stroke="#555" stroke-width="0.8"/>
<text x="552.60" y="542.80" font-size="4.7" text-anchor="middle" fill="#000" stroke="#000" stroke-width="0.13">-0.4</text>
<line x1="569.25" y1="535.40" x2="569.25" y2="537.70" stroke="#555" stroke-width="0.8"/>
<text x="569.25" y="542.80" font-size="4.7" text-anchor="middle" fill="#000" stroke="#000" stroke-width="0.13">-0.2</text>
<line x1="585.90" y1="535.40" x2="585.90" y2="537.70" stroke="#555" stroke-width="0.8"/>
<text x="585.90" y="542.80" font-size="4.7" text-anchor="middle" fill="#000" stroke="#000" stroke-width="0.13">0</text>
<line x1="602.55" y1="535.40" x2="602.55" y2="537.70" stroke="#555" stroke-width="0.8"/>
<text x="602.55" y="542.80" font-size="4.7" text-anchor="middle" fill="#000" stroke="#000" stroke-width="0.13">0.2</text>
<line x1="619.20" y1="535.40" x2="619.20" y2="537.70" stroke="#555" stroke-width="0.8"/>
<text x="619.20" y="542.80" font-size="4.7" text-anchor="middle" fill="#000" stroke="#000" stroke-width="0.13">0.4</text>
<line x1="635.85" y1="535.40" x2="635.85" y2="537.70" stroke="#555" stroke-width="0.8"/>
<text x="635.85" y="542.80" font-size="4.7" text-anchor="middle" fill="#000" stroke="#000" stroke-width="0.13">0.6</text>
<line x1="652.50" y1="535.40" x2="652.50" y2="537.70" stroke="#555" stroke-width="0.8"/>
<text x="652.50" y="542.80" font-size="4.7" text-anchor="middle" fill="#000" stroke="#000" stroke-width="0.13">0.8</text>
<text x="559.10" y="385.00" font-size="6.2" font-weight="bold" text-anchor="start" fill="#000" stroke="#000" stroke-width="0.12">PCoA on ASV level</text>
<text x="566.00" y="390.70" font-size="4.16" text-anchor="start" fill="#222">R=0.7658, P=0.001000</text>
<circle cx="666.20" cy="403.70" r="2.3" fill="#2E8B3A" stroke="none" stroke-width="0"/>
<text x="669.60" y="405.20" font-size="4.1" text-anchor="start" fill="#111">C_a</text>
<circle cx="666.20" cy="410.10" r="2.3" fill="#E8393B" stroke="none" stroke-width="0"/>
<text x="669.60" y="411.60" font-size="4.1" text-anchor="start" fill="#111">C_b</text>
<circle cx="666.20" cy="416.10" r="2.3" fill="#1A86D2" stroke="none" stroke-width="0"/>
<text x="669.60" y="417.60" font-size="4.1" text-anchor="start" fill="#111">C_c</text>
<circle cx="666.20" cy="422.50" r="2.3" fill="#F7981C" stroke="none" stroke-width="0"/>
<text x="669.60" y="424.00" font-size="4.1" text-anchor="start" fill="#111">C_d</text>
<text x="585.90" y="548.60" font-size="5.4" font-weight="bold" text-anchor="middle" fill="#000" stroke="#000" stroke-width="0.08">PC1(32.36%)</text>
<text x="498.00" y="463.80" font-size="5.4" font-weight="bold" text-anchor="middle" fill="#000" transform="rotate(-90 498.00 463.80)" stroke="#000" stroke-width="0.1">PC2(19.39%)</text>
</svg></body></html>
